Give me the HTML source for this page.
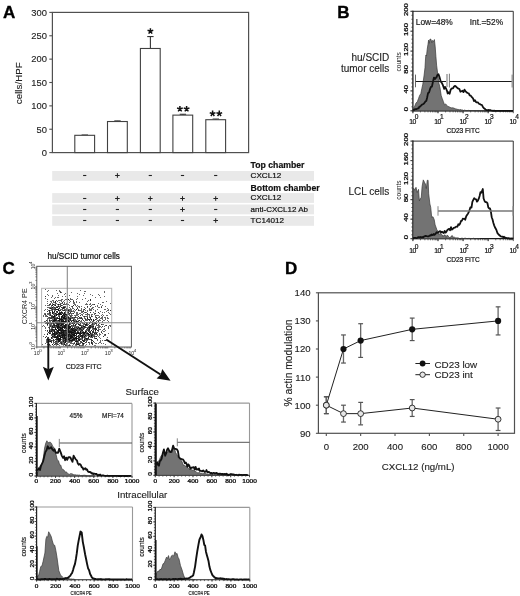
<!DOCTYPE html>
<html><head><meta charset="utf-8"><style>
html,body{margin:0;padding:0;background:#fff;}
svg{display:block;font-family:"Liberation Sans", sans-serif;will-change:transform;}
</style></head><body>
<svg width="520" height="596" viewBox="0 0 520 596">
<rect width="520" height="596" fill="#fff"/>
<text x="3.00" y="18.30" font-size="17" text-anchor="start" font-weight="bold" fill="#000" stroke="#000" stroke-width="0.35">A</text>
<rect x="52.40" y="12.40" width="196.20" height="140.20" fill="none" stroke="#505050" stroke-width="1.2"/>
<line x1="49.30" y1="152.60" x2="52.40" y2="152.60" stroke="#505050" stroke-width="1.1"/>
<text x="46.90" y="155.90" font-size="9.4" text-anchor="end" font-weight="normal" fill="#222"  stroke="#222" stroke-width="0.12">0</text>
<line x1="49.30" y1="129.23" x2="52.40" y2="129.23" stroke="#505050" stroke-width="1.1"/>
<text x="46.90" y="132.53" font-size="9.4" text-anchor="end" font-weight="normal" fill="#222"  stroke="#222" stroke-width="0.12">50</text>
<line x1="49.30" y1="105.87" x2="52.40" y2="105.87" stroke="#505050" stroke-width="1.1"/>
<text x="46.90" y="109.17" font-size="9.4" text-anchor="end" font-weight="normal" fill="#222"  stroke="#222" stroke-width="0.12">100</text>
<line x1="49.30" y1="82.50" x2="52.40" y2="82.50" stroke="#505050" stroke-width="1.1"/>
<text x="46.90" y="85.80" font-size="9.4" text-anchor="end" font-weight="normal" fill="#222"  stroke="#222" stroke-width="0.12">150</text>
<line x1="49.30" y1="59.13" x2="52.40" y2="59.13" stroke="#505050" stroke-width="1.1"/>
<text x="46.90" y="62.43" font-size="9.4" text-anchor="end" font-weight="normal" fill="#222"  stroke="#222" stroke-width="0.12">200</text>
<line x1="49.30" y1="35.77" x2="52.40" y2="35.77" stroke="#505050" stroke-width="1.1"/>
<text x="46.90" y="39.07" font-size="9.4" text-anchor="end" font-weight="normal" fill="#222"  stroke="#222" stroke-width="0.12">250</text>
<line x1="49.30" y1="12.40" x2="52.40" y2="12.40" stroke="#505050" stroke-width="1.1"/>
<text x="46.90" y="15.70" font-size="9.4" text-anchor="end" font-weight="normal" fill="#222"  stroke="#222" stroke-width="0.12">300</text>
<text transform="translate(22.3,83.2) rotate(-90)" font-size="9.8" text-anchor="middle" fill="#222" stroke="#222" stroke-width="0.12">cells/HPF</text>
<line x1="84.80" y1="135.31" x2="84.80" y2="135.03" stroke="#333" stroke-width="1.1"/>
<line x1="81.60" y1="135.03" x2="88.00" y2="135.03" stroke="#333" stroke-width="1.1"/>
<rect x="74.80" y="135.31" width="19.80" height="17.29" fill="#fff" stroke="#404040" stroke-width="1.1"/>
<line x1="117.50" y1="121.52" x2="117.50" y2="120.91" stroke="#333" stroke-width="1.1"/>
<line x1="114.30" y1="120.91" x2="120.70" y2="120.91" stroke="#333" stroke-width="1.1"/>
<rect x="107.50" y="121.52" width="19.80" height="31.08" fill="#fff" stroke="#404040" stroke-width="1.1"/>
<line x1="150.40" y1="48.48" x2="150.40" y2="36.56" stroke="#333" stroke-width="1.1"/>
<line x1="147.20" y1="36.56" x2="153.60" y2="36.56" stroke="#333" stroke-width="1.1"/>
<rect x="140.40" y="48.48" width="19.80" height="104.12" fill="#fff" stroke="#404040" stroke-width="1.1"/>
<line x1="182.90" y1="115.12" x2="182.90" y2="114.28" stroke="#333" stroke-width="1.1"/>
<line x1="179.70" y1="114.28" x2="186.10" y2="114.28" stroke="#333" stroke-width="1.1"/>
<rect x="172.90" y="115.12" width="19.80" height="37.48" fill="#fff" stroke="#404040" stroke-width="1.1"/>
<line x1="215.80" y1="119.70" x2="215.80" y2="119.05" stroke="#333" stroke-width="1.1"/>
<line x1="212.60" y1="119.05" x2="219.00" y2="119.05" stroke="#333" stroke-width="1.1"/>
<rect x="205.80" y="119.70" width="19.80" height="32.90" fill="#fff" stroke="#404040" stroke-width="1.1"/>
<path d="M150.40 31.20 L150.40 28.20 M150.40 31.20 L153.25 30.27 M150.40 31.20 L152.16 33.63 M150.40 31.20 L148.64 33.63 M150.40 31.20 L147.55 30.27 " stroke="#111" stroke-width="1.5" stroke-linecap="butt" fill="none"/>
<path d="M179.90 108.90 L179.90 105.90 M179.90 108.90 L182.75 107.97 M179.90 108.90 L181.66 111.33 M179.90 108.90 L178.14 111.33 M179.90 108.90 L177.05 107.97 " stroke="#111" stroke-width="1.5" stroke-linecap="butt" fill="none"/>
<path d="M186.60 108.90 L186.60 105.90 M186.60 108.90 L189.45 107.97 M186.60 108.90 L188.36 111.33 M186.60 108.90 L184.84 111.33 M186.60 108.90 L183.75 107.97 " stroke="#111" stroke-width="1.5" stroke-linecap="butt" fill="none"/>
<path d="M212.60 113.60 L212.60 110.60 M212.60 113.60 L215.45 112.67 M212.60 113.60 L214.36 116.03 M212.60 113.60 L210.84 116.03 M212.60 113.60 L209.75 112.67 " stroke="#111" stroke-width="1.5" stroke-linecap="butt" fill="none"/>
<path d="M219.30 113.60 L219.30 110.60 M219.30 113.60 L222.15 112.67 M219.30 113.60 L221.06 116.03 M219.30 113.60 L217.54 116.03 M219.30 113.60 L216.45 112.67 " stroke="#111" stroke-width="1.5" stroke-linecap="butt" fill="none"/>
<rect x="52.20" y="171.00" width="261.80" height="9.80" fill="#e9e9e9" stroke="none" stroke-width="1"/>
<rect x="52.20" y="193.10" width="261.80" height="9.80" fill="#e9e9e9" stroke="none" stroke-width="1"/>
<rect x="52.20" y="204.50" width="261.80" height="9.80" fill="#e9e9e9" stroke="none" stroke-width="1"/>
<rect x="52.20" y="216.00" width="261.80" height="9.80" fill="#e9e9e9" stroke="none" stroke-width="1"/>
<line x1="83.10" y1="175.50" x2="86.30" y2="175.50" stroke="#222" stroke-width="1.1"/>
<line x1="115.10" y1="175.50" x2="119.70" y2="175.50" stroke="#222" stroke-width="1.0"/>
<line x1="117.40" y1="173.20" x2="117.40" y2="177.80" stroke="#222" stroke-width="1.0"/>
<line x1="148.70" y1="175.50" x2="151.90" y2="175.50" stroke="#222" stroke-width="1.1"/>
<line x1="180.90" y1="175.50" x2="184.10" y2="175.50" stroke="#222" stroke-width="1.1"/>
<line x1="214.10" y1="175.50" x2="217.30" y2="175.50" stroke="#222" stroke-width="1.1"/>
<line x1="83.10" y1="198.50" x2="86.30" y2="198.50" stroke="#222" stroke-width="1.1"/>
<line x1="115.10" y1="198.50" x2="119.70" y2="198.50" stroke="#222" stroke-width="1.0"/>
<line x1="117.40" y1="196.20" x2="117.40" y2="200.80" stroke="#222" stroke-width="1.0"/>
<line x1="148.00" y1="198.50" x2="152.60" y2="198.50" stroke="#222" stroke-width="1.0"/>
<line x1="150.30" y1="196.20" x2="150.30" y2="200.80" stroke="#222" stroke-width="1.0"/>
<line x1="180.20" y1="198.50" x2="184.80" y2="198.50" stroke="#222" stroke-width="1.0"/>
<line x1="182.50" y1="196.20" x2="182.50" y2="200.80" stroke="#222" stroke-width="1.0"/>
<line x1="213.40" y1="198.50" x2="218.00" y2="198.50" stroke="#222" stroke-width="1.0"/>
<line x1="215.70" y1="196.20" x2="215.70" y2="200.80" stroke="#222" stroke-width="1.0"/>
<line x1="83.10" y1="209.50" x2="86.30" y2="209.50" stroke="#222" stroke-width="1.1"/>
<line x1="115.80" y1="209.50" x2="119.00" y2="209.50" stroke="#222" stroke-width="1.1"/>
<line x1="148.70" y1="209.50" x2="151.90" y2="209.50" stroke="#222" stroke-width="1.1"/>
<line x1="180.20" y1="209.50" x2="184.80" y2="209.50" stroke="#222" stroke-width="1.0"/>
<line x1="182.50" y1="207.20" x2="182.50" y2="211.80" stroke="#222" stroke-width="1.0"/>
<line x1="214.10" y1="209.50" x2="217.30" y2="209.50" stroke="#222" stroke-width="1.1"/>
<line x1="83.10" y1="220.50" x2="86.30" y2="220.50" stroke="#222" stroke-width="1.1"/>
<line x1="115.80" y1="220.50" x2="119.00" y2="220.50" stroke="#222" stroke-width="1.1"/>
<line x1="148.70" y1="220.50" x2="151.90" y2="220.50" stroke="#222" stroke-width="1.1"/>
<line x1="180.90" y1="220.50" x2="184.10" y2="220.50" stroke="#222" stroke-width="1.1"/>
<line x1="213.40" y1="220.50" x2="218.00" y2="220.50" stroke="#222" stroke-width="1.0"/>
<line x1="215.70" y1="218.20" x2="215.70" y2="222.80" stroke="#222" stroke-width="1.0"/>
<text x="250.60" y="167.60" font-size="8.7" text-anchor="start" font-weight="bold" fill="#111"  stroke="#111" stroke-width="0.2">Top chamber</text>
<text x="250.60" y="177.90" font-size="8.1" text-anchor="start" font-weight="normal" fill="#111"  stroke="#111" stroke-width="0.2">CXCL12</text>
<text x="250.60" y="190.60" font-size="8.7" text-anchor="start" font-weight="bold" fill="#111"  stroke="#111" stroke-width="0.2">Bottom chamber</text>
<text x="250.60" y="200.40" font-size="8.1" text-anchor="start" font-weight="normal" fill="#111"  stroke="#111" stroke-width="0.2">CXCL12</text>
<text x="250.60" y="211.90" font-size="8.0" text-anchor="start" font-weight="normal" fill="#111"  stroke="#111" stroke-width="0.2">anti-CXCL12 Ab</text>
<text x="250.60" y="222.90" font-size="8.1" text-anchor="start" font-weight="normal" fill="#111"  stroke="#111" stroke-width="0.2">TC14012</text>
<text x="337.20" y="18.30" font-size="17" text-anchor="start" font-weight="bold" fill="#000" stroke="#000" stroke-width="0.35">B</text>
<text x="389.30" y="60.80" font-size="10" text-anchor="end" font-weight="normal" fill="#222"  stroke="#222" stroke-width="0.12">hu/SCID</text>
<text x="389.30" y="71.50" font-size="10" text-anchor="end" font-weight="normal" fill="#222"  stroke="#222" stroke-width="0.12">tumor cells</text>
<text x="389.30" y="195.20" font-size="10" text-anchor="end" font-weight="normal" fill="#222"  stroke="#222" stroke-width="0.12">LCL cells</text>
<line x1="412.90" y1="11.30" x2="513.30" y2="11.30" stroke="#555" stroke-width="1.2"/>
<line x1="513.30" y1="11.30" x2="513.30" y2="110.80" stroke="#555" stroke-width="1.2"/>
<line x1="412.60" y1="110.80" x2="513.30" y2="110.80" stroke="#1a1a1a" stroke-width="1.2"/>
<line x1="412.90" y1="10.70" x2="412.90" y2="111.40" stroke="#1a1a1a" stroke-width="1.3"/>
<line x1="411.40" y1="110.80" x2="412.90" y2="110.80" stroke="#333" stroke-width="0.8"/>
<line x1="411.40" y1="106.82" x2="412.90" y2="106.82" stroke="#333" stroke-width="0.8"/>
<line x1="411.40" y1="102.84" x2="412.90" y2="102.84" stroke="#333" stroke-width="0.8"/>
<line x1="411.40" y1="98.86" x2="412.90" y2="98.86" stroke="#333" stroke-width="0.8"/>
<line x1="411.40" y1="94.88" x2="412.90" y2="94.88" stroke="#333" stroke-width="0.8"/>
<line x1="411.40" y1="90.90" x2="412.90" y2="90.90" stroke="#333" stroke-width="0.8"/>
<line x1="411.40" y1="86.92" x2="412.90" y2="86.92" stroke="#333" stroke-width="0.8"/>
<line x1="411.40" y1="82.94" x2="412.90" y2="82.94" stroke="#333" stroke-width="0.8"/>
<line x1="411.40" y1="78.96" x2="412.90" y2="78.96" stroke="#333" stroke-width="0.8"/>
<line x1="411.40" y1="74.98" x2="412.90" y2="74.98" stroke="#333" stroke-width="0.8"/>
<line x1="411.40" y1="71.00" x2="412.90" y2="71.00" stroke="#333" stroke-width="0.8"/>
<line x1="411.40" y1="67.02" x2="412.90" y2="67.02" stroke="#333" stroke-width="0.8"/>
<line x1="411.40" y1="63.04" x2="412.90" y2="63.04" stroke="#333" stroke-width="0.8"/>
<line x1="411.40" y1="59.06" x2="412.90" y2="59.06" stroke="#333" stroke-width="0.8"/>
<line x1="411.40" y1="55.08" x2="412.90" y2="55.08" stroke="#333" stroke-width="0.8"/>
<line x1="411.40" y1="51.10" x2="412.90" y2="51.10" stroke="#333" stroke-width="0.8"/>
<line x1="411.40" y1="47.12" x2="412.90" y2="47.12" stroke="#333" stroke-width="0.8"/>
<line x1="411.40" y1="43.14" x2="412.90" y2="43.14" stroke="#333" stroke-width="0.8"/>
<line x1="411.40" y1="39.16" x2="412.90" y2="39.16" stroke="#333" stroke-width="0.8"/>
<line x1="411.40" y1="35.18" x2="412.90" y2="35.18" stroke="#333" stroke-width="0.8"/>
<line x1="411.40" y1="31.20" x2="412.90" y2="31.20" stroke="#333" stroke-width="0.8"/>
<line x1="411.40" y1="27.22" x2="412.90" y2="27.22" stroke="#333" stroke-width="0.8"/>
<line x1="411.40" y1="23.24" x2="412.90" y2="23.24" stroke="#333" stroke-width="0.8"/>
<line x1="411.40" y1="19.26" x2="412.90" y2="19.26" stroke="#333" stroke-width="0.8"/>
<line x1="411.40" y1="15.28" x2="412.90" y2="15.28" stroke="#333" stroke-width="0.8"/>
<line x1="411.40" y1="11.30" x2="412.90" y2="11.30" stroke="#333" stroke-width="0.8"/>
<line x1="410.30" y1="110.80" x2="412.90" y2="110.80" stroke="#333" stroke-width="0.9"/>
<text transform="translate(407.80,109.10) rotate(-90) scale(1.6,1)" font-size="4.9" text-anchor="middle" fill="#111" stroke="#111" stroke-width="0.25">0</text>
<line x1="410.30" y1="90.90" x2="412.90" y2="90.90" stroke="#333" stroke-width="0.9"/>
<text transform="translate(407.80,89.20) rotate(-90) scale(1.6,1)" font-size="4.9" text-anchor="middle" fill="#111" stroke="#111" stroke-width="0.25">40</text>
<line x1="410.30" y1="71.00" x2="412.90" y2="71.00" stroke="#333" stroke-width="0.9"/>
<text transform="translate(407.80,69.30) rotate(-90) scale(1.6,1)" font-size="4.9" text-anchor="middle" fill="#111" stroke="#111" stroke-width="0.25">80</text>
<line x1="410.30" y1="51.10" x2="412.90" y2="51.10" stroke="#333" stroke-width="0.9"/>
<text transform="translate(407.80,49.40) rotate(-90) scale(1.6,1)" font-size="4.9" text-anchor="middle" fill="#111" stroke="#111" stroke-width="0.25">120</text>
<line x1="410.30" y1="31.20" x2="412.90" y2="31.20" stroke="#333" stroke-width="0.9"/>
<text transform="translate(407.80,29.50) rotate(-90) scale(1.6,1)" font-size="4.9" text-anchor="middle" fill="#111" stroke="#111" stroke-width="0.25">160</text>
<line x1="410.30" y1="11.30" x2="412.90" y2="11.30" stroke="#333" stroke-width="0.9"/>
<text transform="translate(407.80,9.60) rotate(-90) scale(1.6,1)" font-size="4.9" text-anchor="middle" fill="#111" stroke="#111" stroke-width="0.25">200</text>
<text transform="translate(400.90,61.80) rotate(-90)" font-size="6.6" text-anchor="middle" fill="#222">counts</text>
<line x1="412.90" y1="110.80" x2="412.90" y2="113.20" stroke="#333" stroke-width="0.7"/>
<line x1="420.46" y1="110.80" x2="420.46" y2="112.40" stroke="#333" stroke-width="0.7"/>
<line x1="424.88" y1="110.80" x2="424.88" y2="112.40" stroke="#333" stroke-width="0.7"/>
<line x1="428.01" y1="110.80" x2="428.01" y2="112.40" stroke="#333" stroke-width="0.7"/>
<line x1="430.44" y1="110.80" x2="430.44" y2="112.40" stroke="#333" stroke-width="0.7"/>
<line x1="432.43" y1="110.80" x2="432.43" y2="112.40" stroke="#333" stroke-width="0.7"/>
<line x1="434.11" y1="110.80" x2="434.11" y2="112.40" stroke="#333" stroke-width="0.7"/>
<line x1="435.57" y1="110.80" x2="435.57" y2="112.40" stroke="#333" stroke-width="0.7"/>
<line x1="436.85" y1="110.80" x2="436.85" y2="112.40" stroke="#333" stroke-width="0.7"/>
<line x1="438.00" y1="110.80" x2="438.00" y2="113.20" stroke="#333" stroke-width="0.7"/>
<line x1="445.56" y1="110.80" x2="445.56" y2="112.40" stroke="#333" stroke-width="0.7"/>
<line x1="449.98" y1="110.80" x2="449.98" y2="112.40" stroke="#333" stroke-width="0.7"/>
<line x1="453.11" y1="110.80" x2="453.11" y2="112.40" stroke="#333" stroke-width="0.7"/>
<line x1="455.54" y1="110.80" x2="455.54" y2="112.40" stroke="#333" stroke-width="0.7"/>
<line x1="457.53" y1="110.80" x2="457.53" y2="112.40" stroke="#333" stroke-width="0.7"/>
<line x1="459.21" y1="110.80" x2="459.21" y2="112.40" stroke="#333" stroke-width="0.7"/>
<line x1="460.67" y1="110.80" x2="460.67" y2="112.40" stroke="#333" stroke-width="0.7"/>
<line x1="461.95" y1="110.80" x2="461.95" y2="112.40" stroke="#333" stroke-width="0.7"/>
<line x1="463.10" y1="110.80" x2="463.10" y2="113.20" stroke="#333" stroke-width="0.7"/>
<line x1="470.66" y1="110.80" x2="470.66" y2="112.40" stroke="#333" stroke-width="0.7"/>
<line x1="475.08" y1="110.80" x2="475.08" y2="112.40" stroke="#333" stroke-width="0.7"/>
<line x1="478.21" y1="110.80" x2="478.21" y2="112.40" stroke="#333" stroke-width="0.7"/>
<line x1="480.64" y1="110.80" x2="480.64" y2="112.40" stroke="#333" stroke-width="0.7"/>
<line x1="482.63" y1="110.80" x2="482.63" y2="112.40" stroke="#333" stroke-width="0.7"/>
<line x1="484.31" y1="110.80" x2="484.31" y2="112.40" stroke="#333" stroke-width="0.7"/>
<line x1="485.77" y1="110.80" x2="485.77" y2="112.40" stroke="#333" stroke-width="0.7"/>
<line x1="487.05" y1="110.80" x2="487.05" y2="112.40" stroke="#333" stroke-width="0.7"/>
<line x1="488.20" y1="110.80" x2="488.20" y2="113.20" stroke="#333" stroke-width="0.7"/>
<line x1="495.76" y1="110.80" x2="495.76" y2="112.40" stroke="#333" stroke-width="0.7"/>
<line x1="500.18" y1="110.80" x2="500.18" y2="112.40" stroke="#333" stroke-width="0.7"/>
<line x1="503.31" y1="110.80" x2="503.31" y2="112.40" stroke="#333" stroke-width="0.7"/>
<line x1="505.74" y1="110.80" x2="505.74" y2="112.40" stroke="#333" stroke-width="0.7"/>
<line x1="507.73" y1="110.80" x2="507.73" y2="112.40" stroke="#333" stroke-width="0.7"/>
<line x1="509.41" y1="110.80" x2="509.41" y2="112.40" stroke="#333" stroke-width="0.7"/>
<line x1="510.87" y1="110.80" x2="510.87" y2="112.40" stroke="#333" stroke-width="0.7"/>
<line x1="512.15" y1="110.80" x2="512.15" y2="112.40" stroke="#333" stroke-width="0.7"/>
<line x1="412.90" y1="110.80" x2="412.90" y2="113.20" stroke="#333" stroke-width="0.8"/>
<text x="409.20" y="123.60" font-size="6.8" letter-spacing="-0.5" fill="#111" stroke="#111" stroke-width="0.2">10</text>
<text x="414.80" y="119.25" font-size="6.6" fill="#111" stroke="#111" stroke-width="0.2">0</text>
<line x1="438.00" y1="110.80" x2="438.00" y2="113.20" stroke="#333" stroke-width="0.8"/>
<text x="434.30" y="123.60" font-size="6.8" letter-spacing="-0.5" fill="#111" stroke="#111" stroke-width="0.2">10</text>
<text x="439.90" y="119.25" font-size="6.6" fill="#111" stroke="#111" stroke-width="0.2">1</text>
<line x1="463.10" y1="110.80" x2="463.10" y2="113.20" stroke="#333" stroke-width="0.8"/>
<text x="459.40" y="123.60" font-size="6.8" letter-spacing="-0.5" fill="#111" stroke="#111" stroke-width="0.2">10</text>
<text x="465.00" y="119.25" font-size="6.6" fill="#111" stroke="#111" stroke-width="0.2">2</text>
<line x1="488.20" y1="110.80" x2="488.20" y2="113.20" stroke="#333" stroke-width="0.8"/>
<text x="484.50" y="123.60" font-size="6.8" letter-spacing="-0.5" fill="#111" stroke="#111" stroke-width="0.2">10</text>
<text x="490.10" y="119.25" font-size="6.6" fill="#111" stroke="#111" stroke-width="0.2">3</text>
<line x1="513.30" y1="110.80" x2="513.30" y2="113.20" stroke="#333" stroke-width="0.8"/>
<text x="509.60" y="123.60" font-size="6.8" letter-spacing="-0.5" fill="#111" stroke="#111" stroke-width="0.2">10</text>
<text x="515.20" y="119.25" font-size="6.6" fill="#111" stroke="#111" stroke-width="0.2">4</text>
<text x="463.10" y="132.75" font-size="6.7" text-anchor="middle" textLength="33.3" lengthAdjust="spacingAndGlyphs" fill="#111" stroke="#111" stroke-width="0.2">CD23 FITC</text>
<path d="M413.30 110.80 L413.60 107.74 L414.66 106.34 L416.00 102.95 L417.31 101.82 L418.60 98.30 L419.74 95.20 L420.80 93.81 L421.86 88.43 L422.80 84.15 L424.00 75.96 L425.00 67.66 L425.50 58.95 L425.90 54.97 L426.50 55.94 L427.20 49.37 L428.00 44.22 L428.60 40.08 L429.20 43.33 L430.00 39.03 L431.00 39.36 L431.80 42.69 L432.60 40.41 L433.50 41.53 L434.40 39.56 L435.20 46.86 L435.90 56.39 L436.60 65.13 L437.80 74.50 L439.00 83.54 L440.00 87.87 L441.20 95.57 L442.30 98.73 L443.37 101.59 L444.60 104.92 L445.81 103.90 L447.00 105.90 L448.02 106.43 L449.20 106.87 L450.02 107.43 L450.97 107.63 L451.94 108.00 L452.80 107.71 L454.04 108.20 L455.40 108.82 L456.22 108.92 L457.17 109.35 L458.18 109.33 L459.15 109.92 L460.00 109.39 L460.97 109.78 L461.76 109.99 L463.00 109.97 L463.68 110.63 L464.33 110.07 L465.04 110.41 L465.88 110.42 L466.94 110.72 L468.28 110.35 L470.00 110.71 L470.66 110.54 L471.40 110.61 L472.23 110.57 L473.12 110.70 L474.06 110.56 L475.06 110.66 L476.09 110.71 L477.16 110.80 L478.24 110.53 L479.34 110.80 L480.44 110.78 L481.53 110.70 L482.60 110.75 L483.65 110.72 L484.67 110.80 L485.64 110.77 L486.55 110.76 L487.40 110.77 L488.19 110.78 L488.88 110.79 L489.49 110.78 L490.00 110.80 L490.00 110.80 L413.30 110.80 Z" fill="#737373" stroke="#3a3a3a" stroke-width="0.7" stroke-linejoin="round"/>
<path d="M413.30 110.60 L413.60 109.91 L414.15 109.78 L414.89 109.24 L415.76 109.18 L416.71 109.03 L417.67 108.40 L418.60 108.39 L419.40 106.73 L420.26 106.56 L421.15 105.44 L422.02 104.64 L422.86 104.23 L423.63 103.72 L424.30 103.10 L425.44 101.38 L426.27 100.98 L427.10 97.80 L428.06 93.13 L429.04 92.53 L430.00 89.19 L430.96 86.81 L431.91 86.62 L432.80 82.51 L433.98 77.57 L435.00 78.94 L436.50 77.08 L437.50 74.78 L438.50 74.23 L439.50 77.10 L440.70 81.37 L441.85 82.98 L443.00 85.49 L444.20 88.86 L445.03 86.89 L446.03 88.50 L446.90 90.52 L447.72 93.48 L448.50 92.26 L449.61 93.73 L450.80 89.34 L451.84 88.47 L453.00 88.44 L454.03 86.52 L455.16 85.87 L456.20 86.76 L457.36 87.94 L458.50 88.63 L459.41 89.03 L460.41 91.73 L461.50 91.25 L462.45 90.65 L463.49 92.16 L464.52 89.69 L465.40 90.98 L466.60 92.42 L467.70 92.99 L468.71 93.41 L469.80 95.46 L470.80 95.68 L471.89 97.22 L473.00 98.33 L473.94 101.06 L474.99 100.26 L476.20 102.38 L477.04 102.34 L477.98 102.46 L478.95 103.72 L479.91 104.09 L480.80 104.68 L481.82 104.79 L482.79 106.69 L483.72 108.07 L484.60 108.68 L485.51 109.52 L486.35 110.04 L487.70 110.09 L488.30 110.53 L488.91 109.96 L489.56 110.31 L490.26 110.07 L491.05 110.64 L491.93 110.63 L492.94 110.80 L494.08 110.73 L495.40 110.80 L496.01 110.80 L496.69 110.80 L497.44 110.80 L498.24 110.80 L499.08 110.80 L499.96 110.80 L500.88 110.80 L501.81 110.80 L502.76 110.80 L503.72 110.80 L504.68 110.80 L505.63 110.80 L506.57 110.80 L507.48 110.80 L508.36 110.80 L509.20 110.80 L510.00 110.80 L510.74 110.80 L511.42 110.80 L512.02 110.80 L512.55 110.80 L513.00 110.80" fill="none" stroke="#111" stroke-width="1.8" stroke-linejoin="round"/>
<line x1="415.50" y1="81.50" x2="446.20" y2="81.50" stroke="#1a1a1a" stroke-width="1.0"/>
<line x1="449.40" y1="81.50" x2="512.30" y2="81.50" stroke="#1a1a1a" stroke-width="1.0"/>
<line x1="415.50" y1="74.60" x2="415.50" y2="87.30" stroke="#555" stroke-width="0.9"/>
<line x1="447.00" y1="74.10" x2="447.00" y2="87.00" stroke="#aaa" stroke-width="1.7"/>
<line x1="449.40" y1="73.70" x2="449.40" y2="87.50" stroke="#666" stroke-width="0.9"/>
<line x1="512.30" y1="74.60" x2="512.30" y2="87.50" stroke="#999" stroke-width="1.6"/>
<text x="415.80" y="25.30" font-size="8.4" text-anchor="start" font-weight="normal" fill="#222"  stroke="#222" stroke-width="0.2">Low=48%</text>
<text x="469.80" y="25.30" font-size="8.4" text-anchor="start" font-weight="normal" fill="#222"  stroke="#222" stroke-width="0.2">Int.=52%</text>
<line x1="412.90" y1="141.10" x2="513.30" y2="141.10" stroke="#555" stroke-width="1.2"/>
<line x1="513.30" y1="141.10" x2="513.30" y2="238.70" stroke="#555" stroke-width="1.2"/>
<line x1="412.60" y1="238.70" x2="513.30" y2="238.70" stroke="#1a1a1a" stroke-width="1.2"/>
<line x1="412.90" y1="140.50" x2="412.90" y2="239.30" stroke="#1a1a1a" stroke-width="1.3"/>
<line x1="411.40" y1="238.70" x2="412.90" y2="238.70" stroke="#333" stroke-width="0.8"/>
<line x1="411.40" y1="234.80" x2="412.90" y2="234.80" stroke="#333" stroke-width="0.8"/>
<line x1="411.40" y1="230.89" x2="412.90" y2="230.89" stroke="#333" stroke-width="0.8"/>
<line x1="411.40" y1="226.99" x2="412.90" y2="226.99" stroke="#333" stroke-width="0.8"/>
<line x1="411.40" y1="223.08" x2="412.90" y2="223.08" stroke="#333" stroke-width="0.8"/>
<line x1="411.40" y1="219.18" x2="412.90" y2="219.18" stroke="#333" stroke-width="0.8"/>
<line x1="411.40" y1="215.28" x2="412.90" y2="215.28" stroke="#333" stroke-width="0.8"/>
<line x1="411.40" y1="211.37" x2="412.90" y2="211.37" stroke="#333" stroke-width="0.8"/>
<line x1="411.40" y1="207.47" x2="412.90" y2="207.47" stroke="#333" stroke-width="0.8"/>
<line x1="411.40" y1="203.56" x2="412.90" y2="203.56" stroke="#333" stroke-width="0.8"/>
<line x1="411.40" y1="199.66" x2="412.90" y2="199.66" stroke="#333" stroke-width="0.8"/>
<line x1="411.40" y1="195.76" x2="412.90" y2="195.76" stroke="#333" stroke-width="0.8"/>
<line x1="411.40" y1="191.85" x2="412.90" y2="191.85" stroke="#333" stroke-width="0.8"/>
<line x1="411.40" y1="187.95" x2="412.90" y2="187.95" stroke="#333" stroke-width="0.8"/>
<line x1="411.40" y1="184.04" x2="412.90" y2="184.04" stroke="#333" stroke-width="0.8"/>
<line x1="411.40" y1="180.14" x2="412.90" y2="180.14" stroke="#333" stroke-width="0.8"/>
<line x1="411.40" y1="176.24" x2="412.90" y2="176.24" stroke="#333" stroke-width="0.8"/>
<line x1="411.40" y1="172.33" x2="412.90" y2="172.33" stroke="#333" stroke-width="0.8"/>
<line x1="411.40" y1="168.43" x2="412.90" y2="168.43" stroke="#333" stroke-width="0.8"/>
<line x1="411.40" y1="164.52" x2="412.90" y2="164.52" stroke="#333" stroke-width="0.8"/>
<line x1="411.40" y1="160.62" x2="412.90" y2="160.62" stroke="#333" stroke-width="0.8"/>
<line x1="411.40" y1="156.72" x2="412.90" y2="156.72" stroke="#333" stroke-width="0.8"/>
<line x1="411.40" y1="152.81" x2="412.90" y2="152.81" stroke="#333" stroke-width="0.8"/>
<line x1="411.40" y1="148.91" x2="412.90" y2="148.91" stroke="#333" stroke-width="0.8"/>
<line x1="411.40" y1="145.00" x2="412.90" y2="145.00" stroke="#333" stroke-width="0.8"/>
<line x1="411.40" y1="141.10" x2="412.90" y2="141.10" stroke="#333" stroke-width="0.8"/>
<line x1="410.30" y1="238.70" x2="412.90" y2="238.70" stroke="#333" stroke-width="0.9"/>
<text transform="translate(407.80,237.00) rotate(-90) scale(1.6,1)" font-size="4.9" text-anchor="middle" fill="#111" stroke="#111" stroke-width="0.25">0</text>
<line x1="410.30" y1="219.18" x2="412.90" y2="219.18" stroke="#333" stroke-width="0.9"/>
<text transform="translate(407.80,217.48) rotate(-90) scale(1.6,1)" font-size="4.9" text-anchor="middle" fill="#111" stroke="#111" stroke-width="0.25">40</text>
<line x1="410.30" y1="199.66" x2="412.90" y2="199.66" stroke="#333" stroke-width="0.9"/>
<text transform="translate(407.80,197.96) rotate(-90) scale(1.6,1)" font-size="4.9" text-anchor="middle" fill="#111" stroke="#111" stroke-width="0.25">80</text>
<line x1="410.30" y1="180.14" x2="412.90" y2="180.14" stroke="#333" stroke-width="0.9"/>
<text transform="translate(407.80,178.44) rotate(-90) scale(1.6,1)" font-size="4.9" text-anchor="middle" fill="#111" stroke="#111" stroke-width="0.25">120</text>
<line x1="410.30" y1="160.62" x2="412.90" y2="160.62" stroke="#333" stroke-width="0.9"/>
<text transform="translate(407.80,158.92) rotate(-90) scale(1.6,1)" font-size="4.9" text-anchor="middle" fill="#111" stroke="#111" stroke-width="0.25">160</text>
<line x1="410.30" y1="141.10" x2="412.90" y2="141.10" stroke="#333" stroke-width="0.9"/>
<text transform="translate(407.80,139.40) rotate(-90) scale(1.6,1)" font-size="4.9" text-anchor="middle" fill="#111" stroke="#111" stroke-width="0.25">200</text>
<text transform="translate(400.90,190.10) rotate(-90)" font-size="6.6" text-anchor="middle" fill="#222">counts</text>
<line x1="412.90" y1="238.70" x2="412.90" y2="241.10" stroke="#333" stroke-width="0.7"/>
<line x1="420.46" y1="238.70" x2="420.46" y2="240.30" stroke="#333" stroke-width="0.7"/>
<line x1="424.88" y1="238.70" x2="424.88" y2="240.30" stroke="#333" stroke-width="0.7"/>
<line x1="428.01" y1="238.70" x2="428.01" y2="240.30" stroke="#333" stroke-width="0.7"/>
<line x1="430.44" y1="238.70" x2="430.44" y2="240.30" stroke="#333" stroke-width="0.7"/>
<line x1="432.43" y1="238.70" x2="432.43" y2="240.30" stroke="#333" stroke-width="0.7"/>
<line x1="434.11" y1="238.70" x2="434.11" y2="240.30" stroke="#333" stroke-width="0.7"/>
<line x1="435.57" y1="238.70" x2="435.57" y2="240.30" stroke="#333" stroke-width="0.7"/>
<line x1="436.85" y1="238.70" x2="436.85" y2="240.30" stroke="#333" stroke-width="0.7"/>
<line x1="438.00" y1="238.70" x2="438.00" y2="241.10" stroke="#333" stroke-width="0.7"/>
<line x1="445.56" y1="238.70" x2="445.56" y2="240.30" stroke="#333" stroke-width="0.7"/>
<line x1="449.98" y1="238.70" x2="449.98" y2="240.30" stroke="#333" stroke-width="0.7"/>
<line x1="453.11" y1="238.70" x2="453.11" y2="240.30" stroke="#333" stroke-width="0.7"/>
<line x1="455.54" y1="238.70" x2="455.54" y2="240.30" stroke="#333" stroke-width="0.7"/>
<line x1="457.53" y1="238.70" x2="457.53" y2="240.30" stroke="#333" stroke-width="0.7"/>
<line x1="459.21" y1="238.70" x2="459.21" y2="240.30" stroke="#333" stroke-width="0.7"/>
<line x1="460.67" y1="238.70" x2="460.67" y2="240.30" stroke="#333" stroke-width="0.7"/>
<line x1="461.95" y1="238.70" x2="461.95" y2="240.30" stroke="#333" stroke-width="0.7"/>
<line x1="463.10" y1="238.70" x2="463.10" y2="241.10" stroke="#333" stroke-width="0.7"/>
<line x1="470.66" y1="238.70" x2="470.66" y2="240.30" stroke="#333" stroke-width="0.7"/>
<line x1="475.08" y1="238.70" x2="475.08" y2="240.30" stroke="#333" stroke-width="0.7"/>
<line x1="478.21" y1="238.70" x2="478.21" y2="240.30" stroke="#333" stroke-width="0.7"/>
<line x1="480.64" y1="238.70" x2="480.64" y2="240.30" stroke="#333" stroke-width="0.7"/>
<line x1="482.63" y1="238.70" x2="482.63" y2="240.30" stroke="#333" stroke-width="0.7"/>
<line x1="484.31" y1="238.70" x2="484.31" y2="240.30" stroke="#333" stroke-width="0.7"/>
<line x1="485.77" y1="238.70" x2="485.77" y2="240.30" stroke="#333" stroke-width="0.7"/>
<line x1="487.05" y1="238.70" x2="487.05" y2="240.30" stroke="#333" stroke-width="0.7"/>
<line x1="488.20" y1="238.70" x2="488.20" y2="241.10" stroke="#333" stroke-width="0.7"/>
<line x1="495.76" y1="238.70" x2="495.76" y2="240.30" stroke="#333" stroke-width="0.7"/>
<line x1="500.18" y1="238.70" x2="500.18" y2="240.30" stroke="#333" stroke-width="0.7"/>
<line x1="503.31" y1="238.70" x2="503.31" y2="240.30" stroke="#333" stroke-width="0.7"/>
<line x1="505.74" y1="238.70" x2="505.74" y2="240.30" stroke="#333" stroke-width="0.7"/>
<line x1="507.73" y1="238.70" x2="507.73" y2="240.30" stroke="#333" stroke-width="0.7"/>
<line x1="509.41" y1="238.70" x2="509.41" y2="240.30" stroke="#333" stroke-width="0.7"/>
<line x1="510.87" y1="238.70" x2="510.87" y2="240.30" stroke="#333" stroke-width="0.7"/>
<line x1="512.15" y1="238.70" x2="512.15" y2="240.30" stroke="#333" stroke-width="0.7"/>
<line x1="412.90" y1="238.70" x2="412.90" y2="241.10" stroke="#333" stroke-width="0.8"/>
<text x="409.20" y="252.60" font-size="6.8" letter-spacing="-0.5" fill="#111" stroke="#111" stroke-width="0.2">10</text>
<text x="414.80" y="248.50" font-size="6.6" fill="#111" stroke="#111" stroke-width="0.2">0</text>
<line x1="438.00" y1="238.70" x2="438.00" y2="241.10" stroke="#333" stroke-width="0.8"/>
<text x="434.30" y="252.60" font-size="6.8" letter-spacing="-0.5" fill="#111" stroke="#111" stroke-width="0.2">10</text>
<text x="439.90" y="248.50" font-size="6.6" fill="#111" stroke="#111" stroke-width="0.2">1</text>
<line x1="463.10" y1="238.70" x2="463.10" y2="241.10" stroke="#333" stroke-width="0.8"/>
<text x="459.40" y="252.60" font-size="6.8" letter-spacing="-0.5" fill="#111" stroke="#111" stroke-width="0.2">10</text>
<text x="465.00" y="248.50" font-size="6.6" fill="#111" stroke="#111" stroke-width="0.2">2</text>
<line x1="488.20" y1="238.70" x2="488.20" y2="241.10" stroke="#333" stroke-width="0.8"/>
<text x="484.50" y="252.60" font-size="6.8" letter-spacing="-0.5" fill="#111" stroke="#111" stroke-width="0.2">10</text>
<text x="490.10" y="248.50" font-size="6.6" fill="#111" stroke="#111" stroke-width="0.2">3</text>
<line x1="513.30" y1="238.70" x2="513.30" y2="241.10" stroke="#333" stroke-width="0.8"/>
<text x="509.60" y="252.60" font-size="6.8" letter-spacing="-0.5" fill="#111" stroke="#111" stroke-width="0.2">10</text>
<text x="515.20" y="248.50" font-size="6.6" fill="#111" stroke="#111" stroke-width="0.2">4</text>
<text x="463.10" y="261.90" font-size="6.7" text-anchor="middle" textLength="33.3" lengthAdjust="spacingAndGlyphs" fill="#111" stroke="#111" stroke-width="0.2">CD23 FITC</text>
<path d="M413.00 238.70 L413.30 212.42 L413.60 188.16 L414.80 190.24 L416.00 187.31 L417.20 192.56 L418.50 189.37 L419.37 200.87 L420.30 198.38 L421.24 197.76 L422.10 186.49 L423.30 179.89 L424.50 182.34 L425.36 184.01 L426.30 188.57 L427.28 180.30 L428.10 180.29 L428.70 193.85 L429.90 203.95 L430.72 207.26 L431.70 217.36 L432.95 216.70 L434.20 219.58 L435.14 224.92 L436.00 227.23 L436.79 229.60 L437.80 231.18 L438.82 234.78 L440.04 233.31 L441.40 234.17 L442.26 235.04 L443.17 236.59 L444.13 234.96 L445.14 234.98 L446.20 237.70 L447.11 234.96 L448.05 235.99 L449.03 236.89 L450.05 238.10 L451.14 236.22 L452.30 235.58 L453.07 237.51 L453.80 237.00 L454.53 237.23 L455.28 237.79 L456.09 237.81 L457.01 237.97 L458.06 237.82 L459.28 238.55 L460.70 238.68 L461.40 238.25 L462.19 238.14 L463.05 238.52 L463.98 238.47 L464.96 238.11 L465.98 238.30 L467.04 238.68 L468.12 238.44 L469.22 238.42 L470.32 238.55 L471.42 238.53 L472.51 238.56 L473.57 238.27 L474.59 238.70 L475.57 238.64 L476.50 238.53 L477.37 238.70 L478.16 238.69 L478.87 238.68 L479.49 238.70 L480.00 238.70 L480.00 238.70 L413.00 238.70 Z" fill="#737373" stroke="#3a3a3a" stroke-width="0.7" stroke-linejoin="round"/>
<path d="M413.00 238.30 L413.48 238.32 L414.09 237.82 L414.81 237.90 L415.62 237.96 L416.49 238.17 L417.42 237.70 L418.37 237.12 L419.34 237.51 L420.29 236.93 L421.22 237.52 L422.10 236.92 L422.97 237.46 L423.88 236.67 L424.81 236.19 L425.75 235.85 L426.69 236.11 L427.63 236.27 L428.53 236.42 L429.41 235.86 L430.23 235.24 L431.00 235.62 L431.70 234.53 L432.80 235.07 L433.73 234.01 L434.52 234.78 L435.24 234.10 L435.91 233.35 L436.60 232.18 L437.59 232.72 L438.48 232.25 L439.33 231.38 L440.20 231.19 L441.10 232.52 L442.00 231.68 L442.90 232.46 L443.80 233.09 L444.70 230.94 L445.60 232.62 L446.50 231.57 L447.40 229.93 L448.30 229.36 L449.19 228.85 L450.09 230.20 L451.00 227.22 L451.92 229.67 L452.85 228.85 L453.78 227.88 L454.70 227.58 L455.61 227.11 L456.51 226.53 L457.40 226.72 L458.30 224.23 L459.21 224.91 L460.12 223.52 L461.02 220.94 L461.90 220.76 L462.76 218.73 L463.59 218.81 L464.41 218.77 L465.20 219.73 L466.22 216.20 L467.19 214.68 L468.10 213.44 L469.36 210.85 L470.40 207.33 L471.50 207.54 L472.36 201.80 L473.30 199.90 L474.19 198.20 L475.00 199.00 L476.10 199.34 L476.96 201.59 L477.90 200.56 L478.76 198.68 L479.60 196.06 L480.46 192.08 L481.30 192.78 L482.80 189.04 L483.60 198.46 L484.80 201.48 L485.61 202.18 L486.50 202.12 L487.40 203.05 L488.30 207.37 L489.16 208.40 L490.00 208.45 L490.85 211.37 L491.70 217.23 L492.54 219.49 L493.40 222.93 L494.26 225.60 L495.20 227.77 L496.32 229.75 L497.50 233.18 L498.57 234.49 L499.80 235.48 L500.55 236.28 L501.38 236.69 L502.28 236.56 L503.30 237.29 L504.06 236.69 L504.89 237.72 L505.76 237.72 L506.66 238.14 L507.54 238.26 L508.40 238.03 L509.28 238.29 L510.23 238.55 L511.17 238.40 L512.04 238.53 L512.77 238.51 L513.30 238.60" fill="none" stroke="#111" stroke-width="1.8" stroke-linejoin="round"/>
<line x1="438.00" y1="211.00" x2="513.30" y2="211.00" stroke="#777" stroke-width="1.3"/>
<line x1="438.00" y1="206.20" x2="438.00" y2="215.70" stroke="#888" stroke-width="1.0"/>
<line x1="513.00" y1="206.20" x2="513.00" y2="215.70" stroke="#888" stroke-width="1.0"/>
<text x="2.50" y="274.00" font-size="17" text-anchor="start" font-weight="bold" fill="#000" stroke="#000" stroke-width="0.35">C</text>
<text x="83.70" y="258.90" font-size="8.15" text-anchor="middle" font-weight="normal" fill="#111"  stroke="#111" stroke-width="0.2">hu/SCID tumor cells</text>
<path d="M93 327h1v1h-1zM82 311h1v1h-1zM76 314h1v1h-1zM56 330h1v1h-1zM87 304h1v1h-1zM102 319h1v1h-1zM54 312h1v1h-1zM81 332h1v1h-1zM45 316h1v1h-1zM102 321h1v1h-1zM67 306h1v1h-1zM62 296h1v1h-1zM69 322h1v1h-1zM43 315h1v1h-1zM82 344h1v1h-1zM71 299h1v1h-1zM47 341h1v1h-1zM95 311h1v1h-1zM75 310h1v1h-1zM103 324h1v1h-1zM102 317h1v1h-1zM47 337h1v1h-1zM47 313h1v1h-1zM56 312h1v1h-1zM82 329h1v1h-1zM92 304h1v1h-1zM104 326h1v1h-1zM68 340h1v1h-1zM64 304h1v1h-1zM76 313h1v1h-1zM46 341h1v1h-1zM84 338h1v1h-1zM90 328h1v1h-1zM66 344h1v1h-1zM80 327h1v1h-1zM89 310h1v1h-1zM54 323h1v1h-1zM49 321h1v1h-1zM54 310h1v1h-1zM97 334h1v1h-1zM59 291h1v1h-1zM49 326h1v1h-1zM76 345h1v1h-1zM70 343h1v1h-1zM76 342h1v1h-1zM85 310h1v1h-1zM60 341h1v1h-1zM46 316h1v1h-1zM92 307h1v1h-1zM62 310h1v1h-1zM98 326h1v1h-1zM45 313h1v1h-1zM97 332h1v1h-1zM97 306h1v1h-1zM74 315h1v1h-1zM52 322h1v1h-1zM62 325h1v1h-1zM77 318h1v1h-1zM87 301h1v1h-1zM74 303h1v1h-1zM53 335h1v1h-1zM81 314h1v1h-1zM69 317h1v1h-1zM95 331h1v1h-1zM49 340h1v1h-1zM83 324h1v1h-1zM77 330h1v1h-1zM85 304h1v1h-1zM104 340h1v1h-1zM76 317h1v1h-1zM57 340h1v1h-1zM85 322h1v1h-1zM65 306h1v1h-1zM53 306h1v1h-1zM94 342h1v1h-1zM50 322h1v1h-1zM58 300h1v1h-1zM102 333h1v1h-1zM65 309h1v1h-1zM56 342h1v1h-1zM83 313h1v1h-1zM89 315h1v1h-1zM110 326h1v1h-1zM91 308h1v1h-1zM65 311h1v1h-1zM58 322h1v1h-1zM74 302h1v1h-1zM76 328h1v1h-1zM63 329h1v1h-1zM88 324h1v1h-1zM70 310h1v1h-1zM59 304h1v1h-1zM47 340h1v1h-1zM95 336h1v1h-1zM108 327h1v1h-1zM96 325h1v1h-1zM84 293h1v1h-1zM86 342h1v1h-1zM75 340h1v1h-1zM65 293h1v1h-1zM64 319h1v1h-1zM90 336h1v1h-1zM93 336h1v1h-1zM76 324h1v1h-1zM70 309h1v1h-1zM52 308h1v1h-1zM63 345h1v1h-1zM80 342h1v1h-1zM83 336h1v1h-1zM74 318h1v1h-1zM81 322h1v1h-1zM73 323h1v1h-1zM47 303h1v1h-1zM93 329h1v1h-1zM43 325h1v1h-1zM44 326h1v1h-1zM52 331h1v1h-1zM82 333h1v1h-1zM60 291h1v1h-1zM57 321h1v1h-1zM58 316h1v1h-1zM103 315h1v1h-1zM90 310h1v1h-1zM87 323h1v1h-1zM60 321h1v1h-1zM50 323h1v1h-1zM75 319h1v1h-1zM47 318h1v1h-1zM48 318h1v1h-1zM99 333h1v1h-1zM89 314h1v1h-1zM59 345h1v1h-1zM49 322h1v1h-1zM61 326h1v1h-1zM90 334h1v1h-1zM71 292h1v1h-1zM55 315h1v1h-1zM67 345h1v1h-1zM72 322h1v1h-1zM107 317h1v1h-1zM88 326h1v1h-1zM49 305h1v1h-1zM75 315h1v1h-1zM65 328h1v1h-1zM70 298h1v1h-1zM86 334h1v1h-1zM88 336h1v1h-1zM62 303h1v1h-1zM76 335h1v1h-1zM98 325h1v1h-1zM106 315h1v1h-1zM61 339h1v1h-1zM75 344h1v1h-1zM78 329h1v1h-1zM82 323h1v1h-1zM70 315h1v1h-1zM109 325h1v1h-1zM82 326h1v1h-1zM67 342h1v1h-1zM81 331h1v1h-1zM98 307h1v1h-1zM85 291h1v1h-1zM49 332h1v1h-1zM101 315h1v1h-1zM69 307h1v1h-1zM58 308h1v1h-1zM74 326h1v1h-1zM59 315h1v1h-1zM88 314h1v1h-1zM76 306h1v1h-1zM102 316h1v1h-1zM82 334h1v1h-1zM77 315h1v1h-1zM48 313h1v1h-1zM100 334h1v1h-1zM51 301h1v1h-1zM97 339h1v1h-1zM99 313h1v1h-1zM82 328h1v1h-1zM53 318h1v1h-1zM65 312h1v1h-1zM92 316h1v1h-1zM65 310h1v1h-1zM86 335h1v1h-1zM61 344h1v1h-1zM79 318h1v1h-1zM79 335h1v1h-1zM78 323h1v1h-1zM105 306h1v1h-1zM79 310h1v1h-1zM59 290h1v1h-1zM59 302h1v1h-1zM70 311h1v1h-1zM77 342h1v1h-1zM55 342h1v1h-1zM70 301h1v1h-1zM72 308h1v1h-1zM55 331h1v1h-1zM104 329h1v1h-1zM103 343h1v1h-1zM69 329h1v1h-1zM52 318h1v1h-1zM105 318h1v1h-1zM65 315h1v1h-1zM104 320h1v1h-1zM102 330h1v1h-1zM52 300h1v1h-1zM78 341h1v1h-1zM84 318h1v1h-1zM90 319h1v1h-1zM55 307h1v1h-1zM46 340h1v1h-1zM92 321h1v1h-1zM86 332h1v1h-1zM54 305h1v1h-1zM53 301h1v1h-1zM67 338h1v1h-1zM94 332h1v1h-1zM81 311h1v1h-1zM47 325h1v1h-1zM69 295h1v1h-1zM77 327h1v1h-1zM71 323h1v1h-1zM85 333h1v1h-1zM52 296h1v1h-1zM73 310h1v1h-1zM79 294h1v1h-1zM52 340h1v1h-1zM55 297h1v1h-1zM49 314h1v1h-1zM71 314h1v1h-1zM58 305h1v1h-1zM84 321h1v1h-1zM97 327h1v1h-1zM105 309h1v1h-1zM58 315h1v1h-1zM70 345h1v1h-1zM48 305h1v1h-1zM72 299h1v1h-1zM68 342h1v1h-1zM74 312h1v1h-1zM70 341h1v1h-1zM101 327h1v1h-1zM48 295h1v1h-1zM83 295h1v1h-1zM83 325h1v1h-1zM61 299h1v1h-1zM100 341h1v1h-1zM92 322h1v1h-1zM65 296h1v1h-1zM77 319h1v1h-1zM42 344h1v1h-1zM64 339h1v1h-1zM45 289h1v1h-1zM92 328h1v1h-1zM76 320h1v1h-1zM93 325h1v1h-1zM104 335h1v1h-1zM44 314h1v1h-1zM82 312h1v1h-1zM45 315h1v1h-1zM93 323h1v1h-1zM74 337h1v1h-1zM93 335h1v1h-1zM99 342h1v1h-1zM56 327h1v1h-1zM110 303h1v1h-1zM62 342h1v1h-1zM52 310h1v1h-1zM80 313h1v1h-1zM93 324h1v1h-1zM80 343h1v1h-1zM77 298h1v1h-1zM85 320h1v1h-1zM97 309h1v1h-1zM52 303h1v1h-1zM81 310h1v1h-1zM54 313h1v1h-1zM67 308h1v1h-1zM70 323h1v1h-1zM47 305h1v1h-1zM52 295h1v1h-1zM87 311h1v1h-1zM66 304h1v1h-1zM72 341h1v1h-1zM105 319h1v1h-1zM50 329h1v1h-1zM53 326h1v1h-1zM108 326h1v1h-1zM64 303h1v1h-1zM81 328h1v1h-1zM92 336h1v1h-1zM55 316h1v1h-1zM62 299h1v1h-1zM99 295h1v1h-1zM87 332h1v1h-1zM77 323h1v1h-1zM104 317h1v1h-1zM68 319h1v1h-1zM71 310h1v1h-1zM47 342h1v1h-1zM99 337h1v1h-1zM85 339h1v1h-1zM70 322h1v1h-1zM96 321h1v1h-1zM56 344h1v1h-1zM68 316h1v1h-1zM69 305h1v1h-1zM98 294h1v1h-1zM48 290h1v1h-1zM65 304h1v1h-1zM70 333h1v1h-1zM94 320h1v1h-1zM65 299h1v1h-1zM55 303h1v1h-1zM66 329h1v1h-1zM56 340h1v1h-1zM53 337h1v1h-1zM82 342h1v1h-1zM81 306h1v1h-1zM101 343h1v1h-1zM62 338h1v1h-1zM47 307h1v1h-1zM93 334h1v1h-1zM49 318h1v1h-1zM64 302h1v1h-1zM91 320h1v1h-1zM76 301h1v1h-1zM47 320h1v1h-1zM99 334h1v1h-1zM73 321h1v1h-1zM48 310h1v1h-1zM107 318h1v1h-1zM54 304h1v1h-1zM72 338h1v1h-1zM55 317h1v1h-1zM63 313h1v1h-1zM105 317h1v1h-1zM64 300h1v1h-1zM56 306h1v1h-1zM77 296h1v1h-1zM55 326h1v1h-1zM75 320h1v1h-1zM85 345h1v1h-1zM63 306h1v1h-1zM71 320h1v1h-1zM97 340h1v1h-1zM102 302h1v1h-1zM108 309h1v1h-1zM72 343h1v1h-1zM68 313h1v1h-1zM96 318h1v1h-1zM46 315h1v1h-1zM78 326h1v1h-1zM98 303h1v1h-1zM55 304h1v1h-1zM50 339h1v1h-1zM60 324h1v1h-1zM77 322h1v1h-1zM67 309h1v1h-1zM80 321h1v1h-1zM70 299h1v1h-1zM101 306h1v1h-1zM85 314h1v1h-1zM83 327h1v1h-1zM85 308h1v1h-1zM55 314h1v1h-1zM60 305h1v1h-1zM45 327h1v1h-1zM87 330h1v1h-1zM99 320h1v1h-1zM51 306h1v1h-1zM51 310h1v1h-1zM94 334h1v1h-1zM93 307h1v1h-1zM51 307h1v1h-1zM91 322h1v1h-1zM80 310h1v1h-1zM97 305h1v1h-1zM85 340h1v1h-1zM60 326h1v1h-1zM85 326h1v1h-1zM77 293h1v1h-1zM51 297h1v1h-1zM50 307h1v1h-1zM43 336h1v1h-1zM82 314h1v1h-1zM75 326h1v1h-1zM56 321h1v1h-1zM51 324h1v1h-1zM79 302h1v1h-1zM87 310h1v1h-1zM68 311h1v1h-1zM99 325h1v1h-1zM74 304h1v1h-1zM60 343h1v1h-1zM63 319h1v1h-1zM79 332h1v1h-1zM62 339h1v1h-1zM44 334h1v1h-1zM87 324h1v1h-1zM96 343h1v1h-1zM106 311h1v1h-1zM107 315h1v1h-1zM90 294h1v1h-1zM71 326h1v1h-1zM69 315h1v1h-1zM84 324h1v1h-1zM53 319h1v1h-1zM90 303h1v1h-1zM49 329h1v1h-1zM56 290h1v1h-1zM78 331h1v1h-1zM69 300h1v1h-1zM49 315h1v1h-1zM51 326h1v1h-1zM50 330h1v1h-1zM83 331h1v1h-1zM48 322h1v1h-1zM45 305h1v1h-1zM53 309h1v1h-1zM94 313h1v1h-1zM49 307h1v1h-1zM94 335h1v1h-1zM90 309h1v1h-1zM48 317h1v1h-1zM90 304h1v1h-1zM72 307h1v1h-1zM84 291h1v1h-1zM98 329h1v1h-1zM56 317h1v1h-1zM70 328h1v1h-1zM82 299h1v1h-1zM69 342h1v1h-1zM72 313h1v1h-1zM54 329h1v1h-1zM67 323h1v1h-1zM91 324h1v1h-1zM50 320h1v1h-1zM81 320h1v1h-1zM102 322h1v1h-1zM49 325h1v1h-1zM71 309h1v1h-1zM56 313h1v1h-1zM79 343h1v1h-1zM82 318h1v1h-1zM65 313h1v1h-1zM83 316h1v1h-1zM99 327h1v1h-1zM69 325h1v1h-1zM98 327h1v1h-1zM47 314h1v1h-1zM45 328h1v1h-1zM71 306h1v1h-1zM51 334h1v1h-1zM61 341h1v1h-1zM47 331h1v1h-1zM90 322h1v1h-1zM92 325h1v1h-1zM68 341h1v1h-1zM52 338h1v1h-1zM72 318h1v1h-1zM98 315h1v1h-1zM57 297h1v1h-1zM95 326h1v1h-1zM77 307h1v1h-1zM61 303h1v1h-1zM97 335h1v1h-1zM79 336h1v1h-1zM66 316h1v1h-1zM103 302h1v1h-1zM91 333h1v1h-1zM98 343h1v1h-1zM109 313h1v1h-1zM81 338h1v1h-1zM50 321h1v1h-1zM68 333h1v1h-1zM74 325h1v1h-1zM53 308h1v1h-1zM47 333h1v1h-1zM45 343h1v1h-1zM54 302h1v1h-1zM99 323h1v1h-1zM94 329h1v1h-1zM80 290h1v1h-1zM50 313h1v1h-1zM81 341h1v1h-1zM46 339h1v1h-1zM51 325h1v1h-1zM76 312h1v1h-1zM99 335h1v1h-1zM60 320h1v1h-1zM62 322h1v1h-1zM92 333h1v1h-1zM89 335h1v1h-1zM71 342h1v1h-1zM59 328h1v1h-1zM50 332h1v1h-1zM81 345h1v1h-1zM104 331h1v1h-1zM89 344h1v1h-1zM64 294h1v1h-1zM61 336h1v1h-1zM54 314h1v1h-1zM56 345h1v1h-1zM99 319h1v1h-1zM81 309h1v1h-1zM73 318h1v1h-1zM50 345h1v1h-1zM51 305h1v1h-1zM95 297h1v1h-1zM70 313h1v1h-1zM93 312h1v1h-1zM93 321h1v1h-1zM58 297h1v1h-1zM51 328h1v1h-1zM89 316h1v1h-1zM83 309h1v1h-1zM59 343h1v1h-1zM52 335h1v1h-1zM47 309h1v1h-1zM51 315h1v1h-1zM90 339h1v1h-1zM100 326h1v1h-1zM95 334h1v1h-1zM99 326h1v1h-1zM52 304h1v1h-1zM89 343h1v1h-1zM57 293h1v1h-1zM62 309h1v1h-1zM75 316h1v1h-1zM75 304h1v1h-1zM87 322h1v1h-1zM54 308h1v1h-1zM70 324h1v1h-1zM79 313h1v1h-1zM98 328h1v1h-1zM78 314h1v1h-1zM73 300h1v1h-1zM51 309h1v1h-1zM72 325h1v1h-1zM79 338h1v1h-1zM79 307h1v1h-1zM71 315h1v1h-1zM47 294h1v1h-1zM51 335h1v1h-1zM66 310h1v1h-1zM81 325h1v1h-1zM64 309h1v1h-1zM94 314h1v1h-1zM71 317h1v1h-1zM98 336h1v1h-1zM107 310h1v1h-1zM68 314h1v1h-1zM75 305h1v1h-1zM58 342h1v1h-1zM86 314h1v1h-1zM71 339h1v1h-1zM86 320h1v1h-1zM46 342h1v1h-1zM86 312h1v1h-1zM52 323h1v1h-1zM67 298h1v1h-1zM95 310h1v1h-1zM86 330h1v1h-1zM92 314h1v1h-1zM101 318h1v1h-1zM87 335h1v1h-1zM81 308h1v1h-1zM100 338h1v1h-1zM99 307h1v1h-1zM57 320h1v1h-1zM80 324h1v1h-1zM61 292h1v1h-1zM53 302h1v1h-1zM73 302h1v1h-1zM74 319h1v1h-1zM69 320h1v1h-1zM80 330h1v1h-1zM75 321h1v1h-1zM104 328h1v1h-1zM79 330h1v1h-1zM72 311h1v1h-1zM50 310h1v1h-1zM76 299h1v1h-1zM96 315h1v1h-1zM84 312h1v1h-1zM94 345h1v1h-1zM49 308h1v1h-1zM77 329h1v1h-1zM52 320h1v1h-1zM72 345h1v1h-1zM78 342h1v1h-1zM85 334h1v1h-1zM45 330h1v1h-1zM61 300h1v1h-1zM47 301h1v1h-1zM84 335h1v1h-1zM82 325h1v1h-1zM103 320h1v1h-1zM65 344h1v1h-1zM54 340h1v1h-1zM94 324h1v1h-1zM87 329h1v1h-1zM102 312h1v1h-1zM59 307h1v1h-1zM56 300h1v1h-1zM59 325h1v1h-1zM90 321h1v1h-1zM69 302h1v1h-1zM79 322h1v1h-1zM54 342h1v1h-1zM95 345h1v1h-1zM62 318h1v1h-1zM61 301h1v1h-1zM73 303h1v1h-1zM106 301h1v1h-1zM53 345h1v1h-1zM69 337h1v1h-1zM91 341h1v1h-1zM79 306h1v1h-1zM44 321h1v1h-1zM99 317h1v1h-1zM63 301h1v1h-1zM48 327h1v1h-1zM102 305h1v1h-1zM85 316h1v1h-1zM45 321h1v1h-1zM63 344h1v1h-1zM81 337h1v1h-1zM51 302h1v1h-1zM86 303h1v1h-1zM84 343h1v1h-1zM44 310h1v1h-1zM89 309h1v1h-1zM67 332h1v1h-1zM89 308h1v1h-1zM63 343h1v1h-1zM80 317h1v1h-1zM68 309h1v1h-1zM87 319h1v1h-1zM85 298h1v1h-1zM82 339h1v1h-1zM47 344h1v1h-1zM55 310h1v1h-1zM108 312h1v1h-1zM85 337h1v1h-1zM58 333h1v1h-1zM103 331h1v1h-1zM93 304h1v1h-1zM88 339h1v1h-1zM78 306h1v1h-1zM53 342h1v1h-1zM83 323h1v1h-1zM89 317h1v1h-1zM77 314h1v1h-1zM66 309h1v1h-1zM84 307h1v1h-1zM50 303h1v1h-1zM69 310h1v1h-1zM51 327h1v1h-1zM102 314h1v1h-1zM78 330h1v1h-1zM71 343h1v1h-1zM50 324h1v1h-1zM68 304h1v1h-1zM65 317h1v1h-1zM55 321h1v1h-1zM69 309h1v1h-1zM52 315h1v1h-1zM62 343h1v1h-1zM47 291h1v1h-1zM44 313h1v1h-1zM76 302h1v1h-1zM86 344h1v1h-1zM59 311h1v1h-1zM93 309h1v1h-1zM103 329h1v1h-1zM96 334h1v1h-1zM53 313h1v1h-1zM75 322h1v1h-1zM85 318h1v1h-1zM50 317h1v1h-1zM96 324h1v1h-1zM86 304h1v1h-1zM100 297h1v1h-1zM54 298h1v1h-1zM100 320h1v1h-1zM65 329h1v1h-1zM65 336h1v1h-1zM91 325h1v1h-1zM61 313h1v1h-1zM110 314h1v1h-1zM47 319h1v1h-1zM75 328h1v1h-1zM94 338h1v1h-1zM64 306h1v1h-1zM63 316h1v1h-1zM70 308h1v1h-1zM82 331h1v1h-1zM92 295h1v1h-1zM60 309h1v1h-1zM100 318h1v1h-1zM57 342h1v1h-1zM46 323h1v1h-1zM107 320h1v1h-1zM87 340h1v1h-1zM71 318h1v1h-1zM91 309h1v1h-1zM74 320h1v1h-1zM42 326h1v1h-1zM104 291h1v1h-1zM89 331h1v1h-1zM98 320h1v1h-1zM72 326h1v1h-1zM70 317h1v1h-1zM102 324h1v1h-1zM87 327h1v1h-1zM58 321h1v1h-1zM89 304h1v1h-1zM48 341h1v1h-1zM65 307h1v1h-1zM95 316h1v1h-1zM91 327h1v1h-1zM67 314h1v1h-1zM97 325h1v1h-1zM88 300h1v1h-1zM64 308h1v1h-1zM48 307h1v1h-1zM96 328h1v1h-1zM57 301h1v1h-1zM50 340h1v1h-1zM85 330h1v1h-1zM97 318h1v1h-1zM52 325h1v1h-1zM63 342h1v1h-1zM95 315h1v1h-1zM60 318h1v1h-1zM74 309h1v1h-1zM49 319h1v1h-1zM55 344h1v1h-1zM76 323h1v1h-1zM107 308h1v1h-1zM86 316h1v1h-1zM47 299h1v1h-1zM86 340h1v1h-1zM83 310h1v1h-1zM47 321h1v1h-1zM52 319h1v1h-1zM92 308h1v1h-1zM87 315h1v1h-1zM92 329h1v1h-1zM83 337h1v1h-1zM71 313h1v1h-1zM86 319h1v1h-1zM91 337h1v1h-1zM48 314h1v1h-1zM73 317h1v1h-1zM57 304h1v1h-1zM53 331h1v1h-1zM62 340h1v1h-1zM108 321h1v1h-1zM91 305h1v1h-1zM87 334h1v1h-1zM73 343h1v1h-1zM100 340h1v1h-1zM76 326h1v1h-1zM78 320h1v1h-1zM68 324h1v1h-1zM77 343h1v1h-1zM78 318h1v1h-1zM66 308h1v1h-1zM75 327h1v1h-1zM53 314h1v1h-1zM74 342h1v1h-1zM108 328h1v1h-1zM104 292h1v1h-1zM100 311h1v1h-1zM49 324h1v1h-1zM81 312h1v1h-1zM62 305h1v1h-1zM73 311h1v1h-1zM77 340h1v1h-1zM97 315h1v1h-1zM53 307h1v1h-1zM87 307h1v1h-1zM92 342h1v1h-1zM99 316h1v1h-1zM76 315h1v1h-1zM96 332h1v1h-1zM91 310h1v1h-1zM100 304h1v1h-1zM98 317h1v1h-1zM89 342h1v1h-1zM102 318h1v1h-1zM104 334h1v1h-1zM95 333h1v1h-1zM90 337h1v1h-1zM56 303h1v1h-1zM107 337h1v1h-1zM82 315h1v1h-1zM102 340h1v1h-1zM57 334h1v1h-1zM62 307h1v1h-1zM84 328h1v1h-1zM97 320h1v1h-1zM87 320h1v1h-1zM105 325h1v1h-1zM86 327h1v1h-1zM100 329h1v1h-1zM56 331h1v1h-1zM105 344h1v1h-1zM66 303h1v1h-1zM59 306h1v1h-1zM91 315h1v1h-1zM73 336h1v1h-1zM85 336h1v1h-1zM81 339h1v1h-1zM57 343h1v1h-1zM69 314h1v1h-1zM77 313h1v1h-1zM78 309h1v1h-1zM52 337h1v1h-1zM84 317h1v1h-1zM77 317h1v1h-1zM94 323h1v1h-1zM75 345h1v1h-1zM74 311h1v1h-1zM60 300h1v1h-1zM105 335h1v1h-1zM45 298h1v1h-1zM105 330h1v1h-1zM79 344h1v1h-1zM80 345h1v1h-1zM95 343h1v1h-1zM87 314h1v1h-1zM60 334h1v1h-1zM45 323h1v1h-1zM69 344h1v1h-1zM91 314h1v1h-1zM57 341h1v1h-1zM110 325h1v1h-1zM60 303h1v1h-1zM59 300h1v1h-1zM87 316h1v1h-1zM64 323h1v1h-1zM104 296h1v1h-1zM101 317h1v1h-1zM61 309h1v1h-1zM71 316h1v1h-1zM43 316h1v1h-1zM104 312h1v1h-1zM108 318h1v1h-1zM98 331h1v1h-1zM56 324h1v1h-1zM50 301h1v1h-1zM73 326h1v1h-1zM76 332h1v1h-1zM66 299h1v1h-1zM55 335h1v1h-1zM77 312h1v1h-1zM73 344h1v1h-1zM90 335h1v1h-1zM70 339h1v1h-1zM53 300h1v1h-1zM77 326h1v1h-1zM49 345h1v1h-1zM75 339h1v1h-1zM62 344h1v1h-1zM96 319h1v1h-1zM95 306h1v1h-1zM78 328h1v1h-1zM104 309h1v1h-1zM58 344h1v1h-1zM79 327h1v1h-1zM108 310h1v1h-1zM64 341h1v1h-1zM62 341h1v1h-1zM94 337h1v1h-1zM80 338h1v1h-1zM72 315h1v1h-1zM77 305h1v1h-1zM100 342h1v1h-1zM70 342h1v1h-1zM73 308h1v1h-1zM86 336h1v1h-1zM95 317h1v1h-1zM88 328h1v1h-1zM49 323h1v1h-1zM101 331h1v1h-1zM83 345h1v1h-1zM81 321h1v1h-1zM57 306h1v1h-1zM53 343h1v1h-1zM60 331h1v1h-1zM69 311h1v1h-1zM58 295h1v1h-1zM61 311h1v1h-1zM99 329h1v1h-1zM52 328h1v1h-1zM45 309h1v1h-1zM108 333h1v1h-1zM55 323h1v1h-1zM53 322h1v1h-1z" fill="#000" fill-opacity="0.6"/>
<path d="M67 320h1v1h-1zM85 327h1v1h-1zM52 316h1v1h-1zM86 329h1v1h-1zM59 308h1v1h-1zM52 330h1v1h-1zM48 345h1v1h-1zM52 321h1v1h-1zM79 325h1v1h-1zM56 320h1v1h-1zM62 317h1v1h-1zM60 342h1v1h-1zM62 320h1v1h-1zM66 336h1v1h-1zM65 331h1v1h-1zM48 323h1v1h-1zM59 326h1v1h-1zM80 318h1v1h-1zM70 330h1v1h-1zM53 329h1v1h-1zM56 334h1v1h-1zM60 340h1v1h-1zM64 310h1v1h-1zM67 304h1v1h-1zM51 338h1v1h-1zM75 324h1v1h-1zM94 322h1v1h-1zM72 333h1v1h-1zM54 344h1v1h-1zM79 324h1v1h-1zM64 322h1v1h-1zM90 312h1v1h-1zM73 333h1v1h-1zM56 318h1v1h-1zM47 338h1v1h-1zM82 338h1v1h-1zM105 334h1v1h-1zM78 310h1v1h-1zM101 332h1v1h-1zM61 307h1v1h-1zM98 312h1v1h-1zM91 334h1v1h-1zM73 301h1v1h-1zM50 325h1v1h-1zM59 334h1v1h-1zM71 325h1v1h-1zM95 332h1v1h-1zM60 292h1v1h-1zM86 341h1v1h-1zM76 344h1v1h-1zM95 327h1v1h-1zM83 328h1v1h-1zM97 330h1v1h-1zM65 322h1v1h-1zM81 336h1v1h-1zM89 339h1v1h-1zM110 310h1v1h-1zM52 309h1v1h-1zM49 304h1v1h-1zM73 337h1v1h-1zM59 312h1v1h-1zM64 314h1v1h-1zM89 325h1v1h-1zM55 308h1v1h-1zM93 341h1v1h-1zM73 305h1v1h-1zM51 316h1v1h-1zM60 304h1v1h-1zM50 333h1v1h-1zM68 312h1v1h-1zM60 312h1v1h-1zM73 313h1v1h-1zM60 306h1v1h-1zM96 317h1v1h-1zM66 338h1v1h-1zM92 343h1v1h-1zM65 320h1v1h-1zM78 340h1v1h-1zM92 344h1v1h-1zM48 337h1v1h-1zM76 340h1v1h-1zM75 330h1v1h-1zM80 323h1v1h-1zM69 318h1v1h-1zM49 328h1v1h-1zM60 310h1v1h-1zM54 326h1v1h-1zM87 339h1v1h-1zM74 332h1v1h-1zM68 338h1v1h-1zM81 318h1v1h-1zM63 308h1v1h-1zM88 338h1v1h-1zM95 313h1v1h-1zM60 335h1v1h-1zM83 311h1v1h-1zM83 320h1v1h-1zM63 339h1v1h-1zM53 321h1v1h-1zM65 334h1v1h-1zM90 326h1v1h-1zM63 325h1v1h-1zM82 343h1v1h-1zM54 327h1v1h-1zM55 319h1v1h-1zM46 336h1v1h-1zM56 338h1v1h-1zM51 341h1v1h-1zM81 330h1v1h-1zM58 337h1v1h-1zM59 324h1v1h-1zM52 317h1v1h-1zM57 322h1v1h-1zM90 306h1v1h-1zM53 339h1v1h-1zM58 328h1v1h-1zM56 341h1v1h-1zM77 336h1v1h-1zM73 331h1v1h-1zM47 311h1v1h-1zM95 319h1v1h-1zM71 311h1v1h-1zM47 339h1v1h-1zM74 327h1v1h-1zM87 338h1v1h-1zM72 328h1v1h-1zM50 315h1v1h-1zM80 329h1v1h-1zM67 325h1v1h-1zM71 330h1v1h-1zM47 323h1v1h-1zM47 330h1v1h-1zM67 316h1v1h-1zM55 327h1v1h-1zM90 332h1v1h-1zM79 317h1v1h-1zM59 321h1v1h-1zM74 328h1v1h-1zM66 343h1v1h-1zM67 319h1v1h-1zM96 323h1v1h-1zM80 335h1v1h-1zM70 316h1v1h-1zM56 339h1v1h-1zM82 345h1v1h-1zM92 334h1v1h-1zM74 343h1v1h-1zM54 324h1v1h-1zM63 337h1v1h-1zM68 318h1v1h-1zM65 319h1v1h-1zM74 336h1v1h-1zM61 329h1v1h-1zM54 309h1v1h-1zM67 331h1v1h-1zM98 330h1v1h-1zM69 313h1v1h-1zM71 341h1v1h-1zM92 337h1v1h-1zM58 314h1v1h-1zM61 342h1v1h-1zM57 325h1v1h-1zM49 327h1v1h-1zM89 319h1v1h-1zM86 333h1v1h-1zM62 313h1v1h-1zM56 343h1v1h-1zM61 327h1v1h-1zM92 332h1v1h-1zM78 343h1v1h-1zM72 327h1v1h-1zM93 331h1v1h-1zM94 336h1v1h-1zM77 308h1v1h-1zM72 320h1v1h-1zM78 336h1v1h-1zM63 326h1v1h-1zM103 336h1v1h-1zM81 342h1v1h-1zM95 322h1v1h-1zM50 304h1v1h-1zM62 331h1v1h-1zM71 334h1v1h-1zM66 331h1v1h-1zM84 340h1v1h-1zM51 317h1v1h-1zM49 317h1v1h-1zM73 329h1v1h-1zM54 307h1v1h-1zM91 316h1v1h-1zM51 330h1v1h-1zM88 342h1v1h-1zM73 340h1v1h-1zM57 344h1v1h-1zM69 335h1v1h-1zM85 312h1v1h-1zM77 321h1v1h-1zM73 319h1v1h-1zM61 305h1v1h-1zM53 312h1v1h-1zM94 328h1v1h-1zM73 325h1v1h-1zM69 321h1v1h-1zM53 334h1v1h-1zM57 312h1v1h-1zM83 335h1v1h-1zM50 314h1v1h-1zM96 336h1v1h-1zM61 334h1v1h-1zM76 329h1v1h-1zM62 308h1v1h-1zM67 310h1v1h-1zM77 331h1v1h-1zM78 316h1v1h-1zM63 315h1v1h-1zM91 340h1v1h-1zM81 329h1v1h-1zM83 334h1v1h-1zM95 338h1v1h-1zM67 339h1v1h-1zM84 337h1v1h-1zM74 321h1v1h-1zM98 324h1v1h-1zM63 340h1v1h-1zM66 345h1v1h-1zM74 340h1v1h-1zM76 322h1v1h-1zM92 326h1v1h-1zM60 332h1v1h-1zM66 315h1v1h-1zM57 317h1v1h-1zM52 332h1v1h-1zM69 330h1v1h-1zM80 315h1v1h-1zM79 329h1v1h-1zM50 318h1v1h-1zM56 307h1v1h-1zM59 317h1v1h-1zM83 340h1v1h-1zM89 326h1v1h-1zM70 334h1v1h-1zM75 332h1v1h-1zM89 322h1v1h-1zM48 332h1v1h-1zM86 322h1v1h-1zM98 321h1v1h-1zM58 336h1v1h-1zM76 327h1v1h-1zM101 307h1v1h-1zM56 311h1v1h-1zM49 344h1v1h-1zM92 340h1v1h-1zM93 319h1v1h-1zM54 317h1v1h-1zM47 322h1v1h-1zM57 332h1v1h-1zM63 310h1v1h-1zM88 327h1v1h-1zM49 311h1v1h-1zM49 313h1v1h-1zM47 316h1v1h-1zM46 320h1v1h-1zM93 332h1v1h-1zM101 324h1v1h-1zM78 338h1v1h-1zM56 326h1v1h-1zM86 323h1v1h-1zM65 333h1v1h-1zM87 313h1v1h-1zM84 327h1v1h-1zM64 332h1v1h-1zM84 341h1v1h-1zM59 316h1v1h-1zM63 324h1v1h-1zM66 327h1v1h-1zM62 302h1v1h-1zM89 330h1v1h-1zM55 339h1v1h-1zM70 329h1v1h-1zM64 333h1v1h-1zM64 342h1v1h-1zM67 335h1v1h-1zM55 309h1v1h-1zM82 319h1v1h-1zM62 312h1v1h-1zM78 337h1v1h-1zM63 336h1v1h-1zM82 327h1v1h-1zM74 317h1v1h-1zM63 322h1v1h-1zM64 343h1v1h-1zM50 326h1v1h-1zM86 325h1v1h-1zM89 323h1v1h-1zM85 325h1v1h-1zM56 319h1v1h-1zM57 311h1v1h-1zM58 334h1v1h-1zM83 344h1v1h-1zM85 342h1v1h-1zM75 317h1v1h-1zM90 300h1v1h-1zM69 336h1v1h-1zM83 329h1v1h-1zM70 320h1v1h-1zM66 326h1v1h-1zM90 318h1v1h-1zM65 337h1v1h-1zM53 330h1v1h-1zM51 308h1v1h-1zM66 340h1v1h-1zM53 324h1v1h-1zM73 324h1v1h-1zM89 320h1v1h-1zM74 329h1v1h-1zM86 339h1v1h-1zM87 325h1v1h-1zM52 333h1v1h-1zM51 329h1v1h-1zM70 312h1v1h-1zM69 319h1v1h-1zM45 314h1v1h-1zM94 304h1v1h-1zM67 315h1v1h-1zM51 323h1v1h-1zM65 332h1v1h-1zM84 316h1v1h-1zM72 335h1v1h-1zM90 299h1v1h-1zM50 331h1v1h-1zM69 341h1v1h-1zM63 304h1v1h-1zM88 330h1v1h-1zM93 330h1v1h-1zM81 326h1v1h-1zM58 335h1v1h-1zM88 335h1v1h-1zM102 326h1v1h-1zM45 296h1v1h-1zM86 331h1v1h-1zM85 319h1v1h-1zM85 338h1v1h-1zM72 306h1v1h-1zM55 341h1v1h-1zM93 328h1v1h-1zM50 312h1v1h-1zM66 320h1v1h-1zM79 334h1v1h-1zM84 309h1v1h-1zM72 331h1v1h-1zM105 340h1v1h-1zM92 331h1v1h-1zM66 319h1v1h-1zM106 325h1v1h-1zM92 324h1v1h-1zM80 341h1v1h-1zM67 330h1v1h-1zM90 331h1v1h-1zM80 339h1v1h-1zM53 325h1v1h-1zM87 317h1v1h-1zM49 312h1v1h-1zM95 329h1v1h-1zM73 322h1v1h-1zM84 334h1v1h-1zM66 317h1v1h-1zM49 339h1v1h-1zM64 328h1v1h-1zM88 331h1v1h-1zM51 342h1v1h-1zM87 306h1v1h-1zM62 333h1v1h-1zM55 343h1v1h-1zM55 333h1v1h-1zM68 345h1v1h-1zM55 302h1v1h-1zM56 336h1v1h-1zM69 333h1v1h-1zM55 332h1v1h-1zM53 341h1v1h-1zM68 337h1v1h-1zM71 338h1v1h-1zM49 341h1v1h-1zM78 321h1v1h-1zM72 317h1v1h-1zM53 336h1v1h-1zM52 327h1v1h-1zM54 321h1v1h-1zM57 338h1v1h-1zM92 327h1v1h-1zM51 320h1v1h-1zM65 316h1v1h-1zM67 318h1v1h-1zM91 326h1v1h-1zM91 339h1v1h-1zM51 340h1v1h-1zM55 336h1v1h-1zM67 326h1v1h-1zM81 317h1v1h-1zM53 340h1v1h-1zM88 329h1v1h-1zM82 322h1v1h-1zM51 318h1v1h-1zM55 318h1v1h-1zM64 340h1v1h-1zM54 336h1v1h-1zM64 331h1v1h-1zM66 341h1v1h-1zM92 335h1v1h-1zM90 317h1v1h-1zM91 343h1v1h-1zM45 337h1v1h-1zM84 323h1v1h-1zM55 325h1v1h-1zM59 310h1v1h-1z" fill="#000" fill-opacity="0.8"/>
<path d="M54 330h1v1h-1zM64 335h1v1h-1zM49 333h1v1h-1zM54 311h1v1h-1zM58 332h1v1h-1zM62 335h1v1h-1zM58 340h1v1h-1zM71 329h1v1h-1zM55 320h1v1h-1zM75 337h1v1h-1zM70 326h1v1h-1zM62 319h1v1h-1zM76 336h1v1h-1zM61 328h1v1h-1zM63 320h1v1h-1zM76 343h1v1h-1zM76 330h1v1h-1zM60 336h1v1h-1zM58 310h1v1h-1zM87 328h1v1h-1zM60 313h1v1h-1zM54 316h1v1h-1zM68 330h1v1h-1zM57 330h1v1h-1zM89 327h1v1h-1zM67 329h1v1h-1zM65 339h1v1h-1zM59 314h1v1h-1zM69 323h1v1h-1zM67 317h1v1h-1zM69 332h1v1h-1zM59 319h1v1h-1zM76 338h1v1h-1zM73 335h1v1h-1zM68 339h1v1h-1zM78 339h1v1h-1zM82 335h1v1h-1zM65 327h1v1h-1zM74 334h1v1h-1zM68 328h1v1h-1zM47 324h1v1h-1zM63 321h1v1h-1zM59 318h1v1h-1zM56 309h1v1h-1zM56 315h1v1h-1zM54 332h1v1h-1zM52 307h1v1h-1zM63 335h1v1h-1zM72 329h1v1h-1zM84 326h1v1h-1zM78 332h1v1h-1zM76 339h1v1h-1zM61 312h1v1h-1zM62 315h1v1h-1zM58 326h1v1h-1zM75 333h1v1h-1zM65 342h1v1h-1zM71 340h1v1h-1zM66 318h1v1h-1zM61 317h1v1h-1zM80 332h1v1h-1zM57 318h1v1h-1zM50 341h1v1h-1zM71 328h1v1h-1zM74 323h1v1h-1zM58 306h1v1h-1zM64 318h1v1h-1zM49 310h1v1h-1zM59 336h1v1h-1zM66 330h1v1h-1zM74 322h1v1h-1zM64 334h1v1h-1zM68 332h1v1h-1zM69 326h1v1h-1zM88 333h1v1h-1zM46 322h1v1h-1zM57 323h1v1h-1zM65 321h1v1h-1zM72 330h1v1h-1zM82 340h1v1h-1zM66 321h1v1h-1zM59 323h1v1h-1zM65 325h1v1h-1zM79 320h1v1h-1zM76 337h1v1h-1zM63 318h1v1h-1zM52 344h1v1h-1zM58 341h1v1h-1zM72 340h1v1h-1zM73 338h1v1h-1zM78 324h1v1h-1zM65 326h1v1h-1zM58 320h1v1h-1zM61 333h1v1h-1zM68 299h1v1h-1zM91 342h1v1h-1zM55 337h1v1h-1zM71 335h1v1h-1zM59 313h1v1h-1zM64 338h1v1h-1zM59 322h1v1h-1zM51 331h1v1h-1zM80 336h1v1h-1zM70 335h1v1h-1zM69 324h1v1h-1zM63 314h1v1h-1zM93 326h1v1h-1zM84 333h1v1h-1zM88 334h1v1h-1zM77 332h1v1h-1zM56 322h1v1h-1zM61 325h1v1h-1zM55 301h1v1h-1zM82 332h1v1h-1zM61 322h1v1h-1zM64 336h1v1h-1zM78 335h1v1h-1zM64 327h1v1h-1zM69 328h1v1h-1zM71 333h1v1h-1zM68 326h1v1h-1zM67 328h1v1h-1zM92 323h1v1h-1zM62 324h1v1h-1zM68 317h1v1h-1zM73 328h1v1h-1zM65 340h1v1h-1zM75 335h1v1h-1zM54 325h1v1h-1zM52 313h1v1h-1zM56 337h1v1h-1zM95 330h1v1h-1zM76 334h1v1h-1zM68 327h1v1h-1zM58 329h1v1h-1zM90 325h1v1h-1zM59 320h1v1h-1zM66 324h1v1h-1zM56 329h1v1h-1zM62 326h1v1h-1zM56 332h1v1h-1zM80 328h1v1h-1zM73 330h1v1h-1zM87 333h1v1h-1zM87 318h1v1h-1zM72 332h1v1h-1zM71 337h1v1h-1zM61 335h1v1h-1zM58 331h1v1h-1zM89 329h1v1h-1zM61 343h1v1h-1zM96 333h1v1h-1zM63 338h1v1h-1zM75 341h1v1h-1zM59 335h1v1h-1zM54 320h1v1h-1zM96 329h1v1h-1zM91 336h1v1h-1zM66 333h1v1h-1zM64 316h1v1h-1zM73 334h1v1h-1zM57 328h1v1h-1zM61 319h1v1h-1zM85 331h1v1h-1zM58 338h1v1h-1zM74 333h1v1h-1zM54 334h1v1h-1zM79 333h1v1h-1zM70 332h1v1h-1zM61 323h1v1h-1zM64 312h1v1h-1zM69 339h1v1h-1zM53 320h1v1h-1zM59 338h1v1h-1zM73 339h1v1h-1zM70 336h1v1h-1zM60 325h1v1h-1zM58 325h1v1h-1zM60 329h1v1h-1zM93 320h1v1h-1zM89 328h1v1h-1zM68 329h1v1h-1zM57 331h1v1h-1zM79 337h1v1h-1zM67 334h1v1h-1zM81 327h1v1h-1zM70 327h1v1h-1zM61 314h1v1h-1zM63 331h1v1h-1zM52 334h1v1h-1zM85 324h1v1h-1zM68 325h1v1h-1zM56 314h1v1h-1zM84 332h1v1h-1zM68 310h1v1h-1zM56 333h1v1h-1zM90 327h1v1h-1zM58 324h1v1h-1zM77 344h1v1h-1zM54 319h1v1h-1zM73 332h1v1h-1zM67 327h1v1h-1zM77 341h1v1h-1zM58 323h1v1h-1zM65 330h1v1h-1zM49 330h1v1h-1zM56 323h1v1h-1zM60 314h1v1h-1zM65 341h1v1h-1zM68 331h1v1h-1zM64 321h1v1h-1zM54 333h1v1h-1zM63 341h1v1h-1zM57 339h1v1h-1zM63 307h1v1h-1zM59 332h1v1h-1zM65 324h1v1h-1zM68 336h1v1h-1zM75 325h1v1h-1zM68 321h1v1h-1zM84 336h1v1h-1zM86 324h1v1h-1zM83 332h1v1h-1zM59 330h1v1h-1zM63 327h1v1h-1zM71 321h1v1h-1zM62 334h1v1h-1zM79 340h1v1h-1zM60 339h1v1h-1zM78 327h1v1h-1zM82 330h1v1h-1zM64 330h1v1h-1zM59 340h1v1h-1zM53 304h1v1h-1zM78 333h1v1h-1zM75 331h1v1h-1zM52 329h1v1h-1zM66 328h1v1h-1zM70 318h1v1h-1zM65 318h1v1h-1zM80 333h1v1h-1zM86 338h1v1h-1zM89 336h1v1h-1zM61 331h1v1h-1zM68 335h1v1h-1zM49 320h1v1h-1zM52 336h1v1h-1zM54 315h1v1h-1zM62 336h1v1h-1zM64 326h1v1h-1zM75 338h1v1h-1zM53 333h1v1h-1zM64 317h1v1h-1zM74 330h1v1h-1zM64 307h1v1h-1zM53 323h1v1h-1zM62 332h1v1h-1zM70 338h1v1h-1zM60 337h1v1h-1zM58 304h1v1h-1zM62 330h1v1h-1zM57 307h1v1h-1zM68 334h1v1h-1zM69 327h1v1h-1zM70 337h1v1h-1zM58 313h1v1h-1zM59 329h1v1h-1zM90 333h1v1h-1zM57 326h1v1h-1zM52 311h1v1h-1zM79 328h1v1h-1zM91 335h1v1h-1zM61 320h1v1h-1zM58 330h1v1h-1zM61 332h1v1h-1zM61 330h1v1h-1zM60 328h1v1h-1zM55 322h1v1h-1zM54 335h1v1h-1zM69 340h1v1h-1zM91 319h1v1h-1zM67 340h1v1h-1zM53 316h1v1h-1zM51 337h1v1h-1zM64 344h1v1h-1zM77 333h1v1h-1zM60 327h1v1h-1zM67 336h1v1h-1zM66 335h1v1h-1zM60 319h1v1h-1zM62 329h1v1h-1zM60 323h1v1h-1zM89 334h1v1h-1zM80 334h1v1h-1zM58 339h1v1h-1zM60 322h1v1h-1zM64 313h1v1h-1zM55 334h1v1h-1zM70 340h1v1h-1zM80 331h1v1h-1zM54 331h1v1h-1zM61 318h1v1h-1zM74 331h1v1h-1zM72 336h1v1h-1zM57 336h1v1h-1zM63 334h1v1h-1zM64 337h1v1h-1zM83 341h1v1h-1zM65 335h1v1h-1zM69 334h1v1h-1zM74 339h1v1h-1zM62 321h1v1h-1zM65 345h1v1h-1zM66 314h1v1h-1zM53 317h1v1h-1zM52 326h1v1h-1zM76 321h1v1h-1zM83 326h1v1h-1zM81 335h1v1h-1zM71 331h1v1h-1zM96 338h1v1h-1zM81 333h1v1h-1zM57 314h1v1h-1zM76 309h1v1h-1zM62 337h1v1h-1zM89 332h1v1h-1zM66 332h1v1h-1zM62 323h1v1h-1zM85 335h1v1h-1zM57 335h1v1h-1zM62 316h1v1h-1zM62 328h1v1h-1zM60 338h1v1h-1zM71 336h1v1h-1zM56 325h1v1h-1zM79 345h1v1h-1zM82 336h1v1h-1zM82 337h1v1h-1zM63 323h1v1h-1zM70 319h1v1h-1zM69 331h1v1h-1zM53 327h1v1h-1zM57 333h1v1h-1zM77 328h1v1h-1zM76 333h1v1h-1zM57 337h1v1h-1zM64 325h1v1h-1zM55 328h1v1h-1zM67 333h1v1h-1zM65 338h1v1h-1zM95 328h1v1h-1zM76 341h1v1h-1zM84 339h1v1h-1zM64 315h1v1h-1zM67 324h1v1h-1zM77 338h1v1h-1zM58 309h1v1h-1zM63 317h1v1h-1zM71 332h1v1h-1zM78 344h1v1h-1zM54 337h1v1h-1zM83 343h1v1h-1zM49 331h1v1h-1zM72 339h1v1h-1zM52 305h1v1h-1zM88 319h1v1h-1zM88 337h1v1h-1zM63 333h1v1h-1zM73 320h1v1h-1zM68 320h1v1h-1zM72 334h1v1h-1zM66 339h1v1h-1zM55 305h1v1h-1zM74 335h1v1h-1zM83 333h1v1h-1zM58 318h1v1h-1zM57 309h1v1h-1zM95 323h1v1h-1zM59 341h1v1h-1zM66 337h1v1h-1zM57 324h1v1h-1zM52 312h1v1h-1zM59 339h1v1h-1zM60 330h1v1h-1zM70 331h1v1h-1zM72 337h1v1h-1zM72 323h1v1h-1zM80 325h1v1h-1zM60 333h1v1h-1zM57 327h1v1h-1zM66 325h1v1h-1zM50 308h1v1h-1zM91 330h1v1h-1zM55 313h1v1h-1zM75 329h1v1h-1zM63 330h1v1h-1zM66 334h1v1h-1zM61 324h1v1h-1zM59 333h1v1h-1zM61 321h1v1h-1zM63 332h1v1h-1zM67 343h1v1h-1zM61 316h1v1h-1zM65 314h1v1h-1zM74 338h1v1h-1zM62 327h1v1h-1zM61 337h1v1h-1zM69 345h1v1h-1zM67 341h1v1h-1zM55 329h1v1h-1zM67 312h1v1h-1zM47 334h1v1h-1zM85 332h1v1h-1zM94 333h1v1h-1zM58 327h1v1h-1zM69 338h1v1h-1zM79 339h1v1h-1zM54 318h1v1h-1zM59 327h1v1h-1z" fill="#000" fill-opacity="0.92"/>
<rect x="41.60" y="288.30" width="70.10" height="58.00" fill="none" stroke="#b5b5b5" stroke-width="1.0"/>
<line x1="67.30" y1="266.30" x2="67.30" y2="347.00" stroke="#8a8a8a" stroke-width="1.1"/>
<line x1="36.80" y1="322.70" x2="131.40" y2="322.70" stroke="#8a8a8a" stroke-width="1.1"/>
<rect x="36.80" y="266.30" width="94.60" height="80.70" fill="none" stroke="#5a5a5a" stroke-width="1.0"/>
<line x1="36.80" y1="347.00" x2="36.80" y2="348.50" stroke="#444" stroke-width="0.6"/>
<line x1="35.30" y1="347.00" x2="36.80" y2="347.00" stroke="#444" stroke-width="0.6"/>
<line x1="43.92" y1="347.00" x2="43.92" y2="348.50" stroke="#444" stroke-width="0.6"/>
<line x1="35.30" y1="340.93" x2="36.80" y2="340.93" stroke="#444" stroke-width="0.6"/>
<line x1="48.08" y1="347.00" x2="48.08" y2="348.50" stroke="#444" stroke-width="0.6"/>
<line x1="35.30" y1="337.37" x2="36.80" y2="337.37" stroke="#444" stroke-width="0.6"/>
<line x1="51.04" y1="347.00" x2="51.04" y2="348.50" stroke="#444" stroke-width="0.6"/>
<line x1="35.30" y1="334.85" x2="36.80" y2="334.85" stroke="#444" stroke-width="0.6"/>
<line x1="53.33" y1="347.00" x2="53.33" y2="348.50" stroke="#444" stroke-width="0.6"/>
<line x1="35.30" y1="332.90" x2="36.80" y2="332.90" stroke="#444" stroke-width="0.6"/>
<line x1="55.20" y1="347.00" x2="55.20" y2="348.50" stroke="#444" stroke-width="0.6"/>
<line x1="35.30" y1="331.30" x2="36.80" y2="331.30" stroke="#444" stroke-width="0.6"/>
<line x1="56.79" y1="347.00" x2="56.79" y2="348.50" stroke="#444" stroke-width="0.6"/>
<line x1="35.30" y1="329.95" x2="36.80" y2="329.95" stroke="#444" stroke-width="0.6"/>
<line x1="58.16" y1="347.00" x2="58.16" y2="348.50" stroke="#444" stroke-width="0.6"/>
<line x1="35.30" y1="328.78" x2="36.80" y2="328.78" stroke="#444" stroke-width="0.6"/>
<line x1="59.37" y1="347.00" x2="59.37" y2="348.50" stroke="#444" stroke-width="0.6"/>
<line x1="35.30" y1="327.75" x2="36.80" y2="327.75" stroke="#444" stroke-width="0.6"/>
<line x1="60.45" y1="347.00" x2="60.45" y2="348.50" stroke="#444" stroke-width="0.6"/>
<line x1="35.30" y1="326.82" x2="36.80" y2="326.82" stroke="#444" stroke-width="0.6"/>
<line x1="67.57" y1="347.00" x2="67.57" y2="348.50" stroke="#444" stroke-width="0.6"/>
<line x1="35.30" y1="320.75" x2="36.80" y2="320.75" stroke="#444" stroke-width="0.6"/>
<line x1="71.73" y1="347.00" x2="71.73" y2="348.50" stroke="#444" stroke-width="0.6"/>
<line x1="35.30" y1="317.20" x2="36.80" y2="317.20" stroke="#444" stroke-width="0.6"/>
<line x1="74.69" y1="347.00" x2="74.69" y2="348.50" stroke="#444" stroke-width="0.6"/>
<line x1="35.30" y1="314.68" x2="36.80" y2="314.68" stroke="#444" stroke-width="0.6"/>
<line x1="76.98" y1="347.00" x2="76.98" y2="348.50" stroke="#444" stroke-width="0.6"/>
<line x1="35.30" y1="312.72" x2="36.80" y2="312.72" stroke="#444" stroke-width="0.6"/>
<line x1="78.85" y1="347.00" x2="78.85" y2="348.50" stroke="#444" stroke-width="0.6"/>
<line x1="35.30" y1="311.13" x2="36.80" y2="311.13" stroke="#444" stroke-width="0.6"/>
<line x1="80.44" y1="347.00" x2="80.44" y2="348.50" stroke="#444" stroke-width="0.6"/>
<line x1="35.30" y1="309.78" x2="36.80" y2="309.78" stroke="#444" stroke-width="0.6"/>
<line x1="81.81" y1="347.00" x2="81.81" y2="348.50" stroke="#444" stroke-width="0.6"/>
<line x1="35.30" y1="308.61" x2="36.80" y2="308.61" stroke="#444" stroke-width="0.6"/>
<line x1="83.02" y1="347.00" x2="83.02" y2="348.50" stroke="#444" stroke-width="0.6"/>
<line x1="35.30" y1="307.57" x2="36.80" y2="307.57" stroke="#444" stroke-width="0.6"/>
<line x1="84.10" y1="347.00" x2="84.10" y2="348.50" stroke="#444" stroke-width="0.6"/>
<line x1="35.30" y1="306.65" x2="36.80" y2="306.65" stroke="#444" stroke-width="0.6"/>
<line x1="91.22" y1="347.00" x2="91.22" y2="348.50" stroke="#444" stroke-width="0.6"/>
<line x1="35.30" y1="300.58" x2="36.80" y2="300.58" stroke="#444" stroke-width="0.6"/>
<line x1="95.38" y1="347.00" x2="95.38" y2="348.50" stroke="#444" stroke-width="0.6"/>
<line x1="35.30" y1="297.02" x2="36.80" y2="297.02" stroke="#444" stroke-width="0.6"/>
<line x1="98.34" y1="347.00" x2="98.34" y2="348.50" stroke="#444" stroke-width="0.6"/>
<line x1="35.30" y1="294.50" x2="36.80" y2="294.50" stroke="#444" stroke-width="0.6"/>
<line x1="100.63" y1="347.00" x2="100.63" y2="348.50" stroke="#444" stroke-width="0.6"/>
<line x1="35.30" y1="292.55" x2="36.80" y2="292.55" stroke="#444" stroke-width="0.6"/>
<line x1="102.50" y1="347.00" x2="102.50" y2="348.50" stroke="#444" stroke-width="0.6"/>
<line x1="35.30" y1="290.95" x2="36.80" y2="290.95" stroke="#444" stroke-width="0.6"/>
<line x1="104.09" y1="347.00" x2="104.09" y2="348.50" stroke="#444" stroke-width="0.6"/>
<line x1="35.30" y1="289.60" x2="36.80" y2="289.60" stroke="#444" stroke-width="0.6"/>
<line x1="105.46" y1="347.00" x2="105.46" y2="348.50" stroke="#444" stroke-width="0.6"/>
<line x1="35.30" y1="288.43" x2="36.80" y2="288.43" stroke="#444" stroke-width="0.6"/>
<line x1="106.67" y1="347.00" x2="106.67" y2="348.50" stroke="#444" stroke-width="0.6"/>
<line x1="35.30" y1="287.40" x2="36.80" y2="287.40" stroke="#444" stroke-width="0.6"/>
<line x1="107.75" y1="347.00" x2="107.75" y2="348.50" stroke="#444" stroke-width="0.6"/>
<line x1="35.30" y1="286.48" x2="36.80" y2="286.48" stroke="#444" stroke-width="0.6"/>
<line x1="114.87" y1="347.00" x2="114.87" y2="348.50" stroke="#444" stroke-width="0.6"/>
<line x1="35.30" y1="280.40" x2="36.80" y2="280.40" stroke="#444" stroke-width="0.6"/>
<line x1="119.03" y1="347.00" x2="119.03" y2="348.50" stroke="#444" stroke-width="0.6"/>
<line x1="35.30" y1="276.85" x2="36.80" y2="276.85" stroke="#444" stroke-width="0.6"/>
<line x1="121.99" y1="347.00" x2="121.99" y2="348.50" stroke="#444" stroke-width="0.6"/>
<line x1="35.30" y1="274.33" x2="36.80" y2="274.33" stroke="#444" stroke-width="0.6"/>
<line x1="124.28" y1="347.00" x2="124.28" y2="348.50" stroke="#444" stroke-width="0.6"/>
<line x1="35.30" y1="272.37" x2="36.80" y2="272.37" stroke="#444" stroke-width="0.6"/>
<line x1="126.15" y1="347.00" x2="126.15" y2="348.50" stroke="#444" stroke-width="0.6"/>
<line x1="35.30" y1="270.78" x2="36.80" y2="270.78" stroke="#444" stroke-width="0.6"/>
<line x1="127.74" y1="347.00" x2="127.74" y2="348.50" stroke="#444" stroke-width="0.6"/>
<line x1="35.30" y1="269.43" x2="36.80" y2="269.43" stroke="#444" stroke-width="0.6"/>
<line x1="129.11" y1="347.00" x2="129.11" y2="348.50" stroke="#444" stroke-width="0.6"/>
<line x1="35.30" y1="268.26" x2="36.80" y2="268.26" stroke="#444" stroke-width="0.6"/>
<line x1="130.32" y1="347.00" x2="130.32" y2="348.50" stroke="#444" stroke-width="0.6"/>
<line x1="35.30" y1="267.22" x2="36.80" y2="267.22" stroke="#444" stroke-width="0.6"/>
<text x="33.80" y="355.40" font-size="5.2" fill="#222">10</text>
<text x="39.20" y="352.00" font-size="4.4" fill="#222">0</text>
<g transform="translate(35.40,347.00) rotate(-90)"><text x="-3.0" y="0" font-size="5.2" fill="#222">10</text><text x="2.4" y="-3.4" font-size="4.4" fill="#222">0</text></g>
<text x="57.45" y="355.40" font-size="5.2" fill="#222">10</text>
<text x="62.85" y="352.00" font-size="4.4" fill="#222">1</text>
<g transform="translate(35.40,326.82) rotate(-90)"><text x="-3.0" y="0" font-size="5.2" fill="#222">10</text><text x="2.4" y="-3.4" font-size="4.4" fill="#222">1</text></g>
<text x="81.10" y="355.40" font-size="5.2" fill="#222">10</text>
<text x="86.50" y="352.00" font-size="4.4" fill="#222">2</text>
<g transform="translate(35.40,306.65) rotate(-90)"><text x="-3.0" y="0" font-size="5.2" fill="#222">10</text><text x="2.4" y="-3.4" font-size="4.4" fill="#222">2</text></g>
<text x="104.75" y="355.40" font-size="5.2" fill="#222">10</text>
<text x="110.15" y="352.00" font-size="4.4" fill="#222">3</text>
<g transform="translate(35.40,286.48) rotate(-90)"><text x="-3.0" y="0" font-size="5.2" fill="#222">10</text><text x="2.4" y="-3.4" font-size="4.4" fill="#222">3</text></g>
<text x="128.40" y="355.40" font-size="5.2" fill="#222">10</text>
<text x="133.80" y="352.00" font-size="4.4" fill="#222">4</text>
<g transform="translate(35.40,266.30) rotate(-90)"><text x="-3.0" y="0" font-size="5.2" fill="#222">10</text><text x="2.4" y="-3.4" font-size="4.4" fill="#222">4</text></g>
<text transform="translate(27.0,306.3) rotate(-90)" font-size="7.2" text-anchor="middle" fill="#222">CXCR4 PE</text>
<text x="83.70" y="368.60" font-size="7.1" text-anchor="middle" font-weight="normal" fill="#222"  stroke="#222" stroke-width="0.2">CD23 FITC</text>
<line x1="48.30" y1="338.20" x2="48.30" y2="369.50" stroke="#111" stroke-width="1.9"/>
<path d="M42.9 366.7 L48.3 369.3 L53.8 366.7 L48.3 380.5 Z" fill="#111"/>
<line x1="106.20" y1="339.50" x2="160.50" y2="374.50" stroke="#111" stroke-width="2.0"/>
<path d="M156.6 378.6 L160.6 374.6 L162.3 369.0 L170.6 380.8 Z" fill="#111"/>
<text x="142.30" y="395.30" font-size="9.7" text-anchor="middle" font-weight="normal" fill="#222"  stroke="#222" stroke-width="0.12">Surface</text>
<text x="142.30" y="498.40" font-size="9.7" text-anchor="middle" font-weight="normal" fill="#222"  stroke="#222" stroke-width="0.12">Intracellular</text>
<line x1="36.40" y1="403.40" x2="132.00" y2="403.40" stroke="#999" stroke-width="1.1"/>
<line x1="132.00" y1="403.40" x2="132.00" y2="476.00" stroke="#999" stroke-width="1.1"/>
<line x1="36.40" y1="476.00" x2="132.00" y2="476.00" stroke="#222" stroke-width="1.1"/>
<line x1="36.40" y1="402.90" x2="36.40" y2="476.50" stroke="#222" stroke-width="1.2"/>
<line x1="35.00" y1="476.00" x2="36.40" y2="476.00" stroke="#333" stroke-width="0.7"/>
<line x1="35.00" y1="473.10" x2="36.40" y2="473.10" stroke="#333" stroke-width="0.7"/>
<line x1="35.00" y1="470.19" x2="36.40" y2="470.19" stroke="#333" stroke-width="0.7"/>
<line x1="35.00" y1="467.29" x2="36.40" y2="467.29" stroke="#333" stroke-width="0.7"/>
<line x1="35.00" y1="464.38" x2="36.40" y2="464.38" stroke="#333" stroke-width="0.7"/>
<line x1="35.00" y1="461.48" x2="36.40" y2="461.48" stroke="#333" stroke-width="0.7"/>
<line x1="35.00" y1="458.58" x2="36.40" y2="458.58" stroke="#333" stroke-width="0.7"/>
<line x1="35.00" y1="455.67" x2="36.40" y2="455.67" stroke="#333" stroke-width="0.7"/>
<line x1="35.00" y1="452.77" x2="36.40" y2="452.77" stroke="#333" stroke-width="0.7"/>
<line x1="35.00" y1="449.86" x2="36.40" y2="449.86" stroke="#333" stroke-width="0.7"/>
<line x1="35.00" y1="446.96" x2="36.40" y2="446.96" stroke="#333" stroke-width="0.7"/>
<line x1="35.00" y1="444.06" x2="36.40" y2="444.06" stroke="#333" stroke-width="0.7"/>
<line x1="35.00" y1="441.15" x2="36.40" y2="441.15" stroke="#333" stroke-width="0.7"/>
<line x1="35.00" y1="438.25" x2="36.40" y2="438.25" stroke="#333" stroke-width="0.7"/>
<line x1="35.00" y1="435.34" x2="36.40" y2="435.34" stroke="#333" stroke-width="0.7"/>
<line x1="35.00" y1="432.44" x2="36.40" y2="432.44" stroke="#333" stroke-width="0.7"/>
<line x1="35.00" y1="429.54" x2="36.40" y2="429.54" stroke="#333" stroke-width="0.7"/>
<line x1="35.00" y1="426.63" x2="36.40" y2="426.63" stroke="#333" stroke-width="0.7"/>
<line x1="35.00" y1="423.73" x2="36.40" y2="423.73" stroke="#333" stroke-width="0.7"/>
<line x1="35.00" y1="420.82" x2="36.40" y2="420.82" stroke="#333" stroke-width="0.7"/>
<line x1="35.00" y1="417.92" x2="36.40" y2="417.92" stroke="#333" stroke-width="0.7"/>
<line x1="35.00" y1="415.02" x2="36.40" y2="415.02" stroke="#333" stroke-width="0.7"/>
<line x1="35.00" y1="412.11" x2="36.40" y2="412.11" stroke="#333" stroke-width="0.7"/>
<line x1="35.00" y1="409.21" x2="36.40" y2="409.21" stroke="#333" stroke-width="0.7"/>
<line x1="35.00" y1="406.30" x2="36.40" y2="406.30" stroke="#333" stroke-width="0.7"/>
<line x1="35.00" y1="403.40" x2="36.40" y2="403.40" stroke="#333" stroke-width="0.7"/>
<line x1="34.20" y1="476.00" x2="36.40" y2="476.00" stroke="#333" stroke-width="0.8"/>
<text transform="translate(33.30,474.70) rotate(-90) scale(1.45,1)" font-size="4.5" text-anchor="middle" fill="#111" stroke="#111" stroke-width="0.25">0</text>
<line x1="34.20" y1="461.48" x2="36.40" y2="461.48" stroke="#333" stroke-width="0.8"/>
<text transform="translate(33.30,460.18) rotate(-90) scale(1.45,1)" font-size="4.5" text-anchor="middle" fill="#111" stroke="#111" stroke-width="0.25">20</text>
<line x1="34.20" y1="446.96" x2="36.40" y2="446.96" stroke="#333" stroke-width="0.8"/>
<text transform="translate(33.30,445.66) rotate(-90) scale(1.45,1)" font-size="4.5" text-anchor="middle" fill="#111" stroke="#111" stroke-width="0.25">40</text>
<line x1="34.20" y1="432.44" x2="36.40" y2="432.44" stroke="#333" stroke-width="0.8"/>
<text transform="translate(33.30,431.14) rotate(-90) scale(1.45,1)" font-size="4.5" text-anchor="middle" fill="#111" stroke="#111" stroke-width="0.25">60</text>
<line x1="34.20" y1="417.92" x2="36.40" y2="417.92" stroke="#333" stroke-width="0.8"/>
<text transform="translate(33.30,416.62) rotate(-90) scale(1.45,1)" font-size="4.5" text-anchor="middle" fill="#111" stroke="#111" stroke-width="0.25">80</text>
<line x1="34.20" y1="403.40" x2="36.40" y2="403.40" stroke="#333" stroke-width="0.8"/>
<text transform="translate(33.30,402.10) rotate(-90) scale(1.45,1)" font-size="4.5" text-anchor="middle" fill="#111" stroke="#111" stroke-width="0.25">100</text>
<text transform="translate(25.50,443.10) rotate(-90)" font-size="6.7" text-anchor="middle" fill="#111" stroke="#111" stroke-width="0.15">counts</text>
<line x1="36.40" y1="476.00" x2="36.40" y2="477.40" stroke="#333" stroke-width="0.7"/>
<line x1="40.22" y1="476.00" x2="40.22" y2="477.40" stroke="#333" stroke-width="0.7"/>
<line x1="44.05" y1="476.00" x2="44.05" y2="477.40" stroke="#333" stroke-width="0.7"/>
<line x1="47.87" y1="476.00" x2="47.87" y2="477.40" stroke="#333" stroke-width="0.7"/>
<line x1="51.70" y1="476.00" x2="51.70" y2="477.40" stroke="#333" stroke-width="0.7"/>
<line x1="55.52" y1="476.00" x2="55.52" y2="477.40" stroke="#333" stroke-width="0.7"/>
<line x1="59.34" y1="476.00" x2="59.34" y2="477.40" stroke="#333" stroke-width="0.7"/>
<line x1="63.17" y1="476.00" x2="63.17" y2="477.40" stroke="#333" stroke-width="0.7"/>
<line x1="66.99" y1="476.00" x2="66.99" y2="477.40" stroke="#333" stroke-width="0.7"/>
<line x1="70.82" y1="476.00" x2="70.82" y2="477.40" stroke="#333" stroke-width="0.7"/>
<line x1="74.64" y1="476.00" x2="74.64" y2="477.40" stroke="#333" stroke-width="0.7"/>
<line x1="78.46" y1="476.00" x2="78.46" y2="477.40" stroke="#333" stroke-width="0.7"/>
<line x1="82.29" y1="476.00" x2="82.29" y2="477.40" stroke="#333" stroke-width="0.7"/>
<line x1="86.11" y1="476.00" x2="86.11" y2="477.40" stroke="#333" stroke-width="0.7"/>
<line x1="89.94" y1="476.00" x2="89.94" y2="477.40" stroke="#333" stroke-width="0.7"/>
<line x1="93.76" y1="476.00" x2="93.76" y2="477.40" stroke="#333" stroke-width="0.7"/>
<line x1="97.58" y1="476.00" x2="97.58" y2="477.40" stroke="#333" stroke-width="0.7"/>
<line x1="101.41" y1="476.00" x2="101.41" y2="477.40" stroke="#333" stroke-width="0.7"/>
<line x1="105.23" y1="476.00" x2="105.23" y2="477.40" stroke="#333" stroke-width="0.7"/>
<line x1="109.06" y1="476.00" x2="109.06" y2="477.40" stroke="#333" stroke-width="0.7"/>
<line x1="112.88" y1="476.00" x2="112.88" y2="477.40" stroke="#333" stroke-width="0.7"/>
<line x1="116.70" y1="476.00" x2="116.70" y2="477.40" stroke="#333" stroke-width="0.7"/>
<line x1="120.53" y1="476.00" x2="120.53" y2="477.40" stroke="#333" stroke-width="0.7"/>
<line x1="124.35" y1="476.00" x2="124.35" y2="477.40" stroke="#333" stroke-width="0.7"/>
<line x1="128.18" y1="476.00" x2="128.18" y2="477.40" stroke="#333" stroke-width="0.7"/>
<line x1="132.00" y1="476.00" x2="132.00" y2="477.40" stroke="#333" stroke-width="0.7"/>
<line x1="36.40" y1="476.00" x2="36.40" y2="478.00" stroke="#333" stroke-width="0.8"/>
<text transform="translate(36.40,483.20) scale(1.45,1)" font-size="4.5" text-anchor="middle" fill="#111" stroke="#111" stroke-width="0.25">0</text>
<line x1="55.52" y1="476.00" x2="55.52" y2="478.00" stroke="#333" stroke-width="0.8"/>
<text transform="translate(55.52,483.20) scale(1.45,1)" font-size="4.5" text-anchor="middle" fill="#111" stroke="#111" stroke-width="0.25">200</text>
<line x1="74.64" y1="476.00" x2="74.64" y2="478.00" stroke="#333" stroke-width="0.8"/>
<text transform="translate(74.64,483.20) scale(1.45,1)" font-size="4.5" text-anchor="middle" fill="#111" stroke="#111" stroke-width="0.25">400</text>
<line x1="93.76" y1="476.00" x2="93.76" y2="478.00" stroke="#333" stroke-width="0.8"/>
<text transform="translate(93.76,483.20) scale(1.45,1)" font-size="4.5" text-anchor="middle" fill="#111" stroke="#111" stroke-width="0.25">600</text>
<line x1="112.88" y1="476.00" x2="112.88" y2="478.00" stroke="#333" stroke-width="0.8"/>
<text transform="translate(112.88,483.20) scale(1.45,1)" font-size="4.5" text-anchor="middle" fill="#111" stroke="#111" stroke-width="0.25">800</text>
<line x1="132.00" y1="476.00" x2="132.00" y2="478.00" stroke="#333" stroke-width="0.8"/>
<text transform="translate(132.00,483.20) scale(1.45,1)" font-size="4.5" text-anchor="middle" fill="#111" stroke="#111" stroke-width="0.25">1000</text>
<path d="M36.60 475.80 L36.90 473.47 L37.88 472.04 L39.20 467.78 L40.20 465.60 L41.30 464.71 L42.30 463.81 L43.50 456.56 L44.60 448.00 L45.75 443.15 L46.90 440.75 L48.05 442.88 L49.20 442.34 L50.35 442.19 L51.50 443.42 L52.64 446.24 L53.80 447.22 L55.00 451.51 L56.20 455.07 L57.36 460.19 L58.50 460.77 L59.61 464.84 L60.80 465.13 L61.69 468.59 L62.65 469.26 L63.80 469.89 L64.58 470.95 L65.41 472.20 L66.32 471.85 L67.34 473.21 L68.50 473.92 L69.29 474.22 L70.11 474.44 L70.97 473.19 L71.87 474.24 L72.84 474.01 L73.88 474.92 L75.00 474.76 L76.20 474.99 L77.01 475.17 L77.90 474.92 L78.84 475.23 L79.84 475.07 L80.86 475.94 L81.90 475.31 L82.95 475.50 L83.98 475.15 L84.99 475.30 L85.96 475.50 L86.88 475.86 L87.73 475.89 L88.50 475.85 L89.79 475.79 L90.97 476.00 L92.03 475.87 L92.97 475.91 L93.79 476.00 L94.46 475.95 L95.00 476.00 L95.00 476.00 L36.60 476.00 Z" fill="#737373" stroke="#3a3a3a" stroke-width="0.7" stroke-linejoin="round"/>
<path d="M36.90 470.30 L37.70 469.92 L38.85 468.24 L40.00 470.15 L41.06 465.66 L42.13 463.28 L43.10 461.34 L44.30 456.19 L45.40 451.92 L46.55 450.28 L47.70 446.25 L48.85 448.55 L50.00 448.15 L51.15 447.19 L52.30 449.46 L53.45 450.73 L54.60 449.26 L55.75 452.77 L56.90 452.56 L58.09 452.82 L59.20 448.62 L60.80 452.65 L61.86 455.87 L63.10 457.92 L64.08 456.32 L65.14 460.25 L66.20 457.68 L67.23 459.88 L68.26 457.43 L69.20 457.14 L70.34 457.48 L71.50 459.84 L72.50 461.74 L73.60 455.56 L74.60 457.59 L75.70 459.32 L76.90 460.32 L77.75 463.34 L78.71 464.76 L79.74 464.00 L80.80 464.86 L81.65 467.31 L82.52 467.31 L83.42 469.64 L84.37 468.83 L85.40 468.26 L86.19 469.73 L87.03 469.47 L87.90 471.48 L88.80 472.00 L89.71 471.82 L90.61 472.06 L91.50 473.49 L92.35 473.15 L93.18 474.22 L93.99 473.41 L94.83 473.94 L95.71 474.01 L96.66 474.00 L97.70 475.62 L98.37 475.33 L98.99 474.65 L99.59 475.24 L100.20 474.57 L100.84 475.58 L101.54 475.62 L102.33 475.38 L103.24 475.48 L104.28 475.69 L105.49 475.81 L106.90 475.75 L107.48 475.71 L108.12 475.81 L108.82 475.81 L109.55 475.97 L110.33 475.90 L111.15 475.93 L112.00 475.77 L112.89 475.90 L113.79 475.91 L114.72 475.91 L115.67 475.95 L116.62 475.94 L117.59 475.88 L118.56 476.00 L119.53 476.00 L120.49 475.95 L121.44 476.00 L122.38 475.94 L123.30 475.93 L124.20 475.98 L125.07 476.00 L125.91 475.98 L126.72 475.94 L127.48 476.00 L128.21 475.97 L128.88 475.97 L129.50 476.00 L130.06 475.95 L130.56 475.97 L131.00 476.00" fill="none" stroke="#111" stroke-width="1.8" stroke-linejoin="round"/>
<line x1="36.90" y1="416.00" x2="36.90" y2="476.00" stroke="#111" stroke-width="1.6"/>
<line x1="59.30" y1="443.00" x2="132.00" y2="443.00" stroke="#555" stroke-width="1.0"/>
<line x1="59.30" y1="438.90" x2="59.30" y2="447.00" stroke="#777" stroke-width="0.9"/>
<text x="76.00" y="418.20" font-size="6.4" text-anchor="middle" font-weight="normal" fill="#222"  stroke="#222" stroke-width="0.2">45%</text>
<text x="113.00" y="418.20" font-size="6.4" text-anchor="middle" font-weight="normal" fill="#222"  stroke="#222" stroke-width="0.2">MFI=74</text>
<line x1="155.30" y1="403.10" x2="249.50" y2="403.10" stroke="#999" stroke-width="1.1"/>
<line x1="249.50" y1="403.10" x2="249.50" y2="475.30" stroke="#999" stroke-width="1.1"/>
<line x1="155.30" y1="475.30" x2="249.50" y2="475.30" stroke="#222" stroke-width="1.1"/>
<line x1="155.30" y1="402.60" x2="155.30" y2="475.80" stroke="#222" stroke-width="1.2"/>
<line x1="153.90" y1="475.30" x2="155.30" y2="475.30" stroke="#333" stroke-width="0.7"/>
<line x1="153.90" y1="472.41" x2="155.30" y2="472.41" stroke="#333" stroke-width="0.7"/>
<line x1="153.90" y1="469.52" x2="155.30" y2="469.52" stroke="#333" stroke-width="0.7"/>
<line x1="153.90" y1="466.64" x2="155.30" y2="466.64" stroke="#333" stroke-width="0.7"/>
<line x1="153.90" y1="463.75" x2="155.30" y2="463.75" stroke="#333" stroke-width="0.7"/>
<line x1="153.90" y1="460.86" x2="155.30" y2="460.86" stroke="#333" stroke-width="0.7"/>
<line x1="153.90" y1="457.97" x2="155.30" y2="457.97" stroke="#333" stroke-width="0.7"/>
<line x1="153.90" y1="455.08" x2="155.30" y2="455.08" stroke="#333" stroke-width="0.7"/>
<line x1="153.90" y1="452.20" x2="155.30" y2="452.20" stroke="#333" stroke-width="0.7"/>
<line x1="153.90" y1="449.31" x2="155.30" y2="449.31" stroke="#333" stroke-width="0.7"/>
<line x1="153.90" y1="446.42" x2="155.30" y2="446.42" stroke="#333" stroke-width="0.7"/>
<line x1="153.90" y1="443.53" x2="155.30" y2="443.53" stroke="#333" stroke-width="0.7"/>
<line x1="153.90" y1="440.64" x2="155.30" y2="440.64" stroke="#333" stroke-width="0.7"/>
<line x1="153.90" y1="437.76" x2="155.30" y2="437.76" stroke="#333" stroke-width="0.7"/>
<line x1="153.90" y1="434.87" x2="155.30" y2="434.87" stroke="#333" stroke-width="0.7"/>
<line x1="153.90" y1="431.98" x2="155.30" y2="431.98" stroke="#333" stroke-width="0.7"/>
<line x1="153.90" y1="429.09" x2="155.30" y2="429.09" stroke="#333" stroke-width="0.7"/>
<line x1="153.90" y1="426.20" x2="155.30" y2="426.20" stroke="#333" stroke-width="0.7"/>
<line x1="153.90" y1="423.32" x2="155.30" y2="423.32" stroke="#333" stroke-width="0.7"/>
<line x1="153.90" y1="420.43" x2="155.30" y2="420.43" stroke="#333" stroke-width="0.7"/>
<line x1="153.90" y1="417.54" x2="155.30" y2="417.54" stroke="#333" stroke-width="0.7"/>
<line x1="153.90" y1="414.65" x2="155.30" y2="414.65" stroke="#333" stroke-width="0.7"/>
<line x1="153.90" y1="411.76" x2="155.30" y2="411.76" stroke="#333" stroke-width="0.7"/>
<line x1="153.90" y1="408.88" x2="155.30" y2="408.88" stroke="#333" stroke-width="0.7"/>
<line x1="153.90" y1="405.99" x2="155.30" y2="405.99" stroke="#333" stroke-width="0.7"/>
<line x1="153.90" y1="403.10" x2="155.30" y2="403.10" stroke="#333" stroke-width="0.7"/>
<line x1="153.10" y1="475.30" x2="155.30" y2="475.30" stroke="#333" stroke-width="0.8"/>
<text transform="translate(152.20,474.00) rotate(-90) scale(1.45,1)" font-size="4.5" text-anchor="middle" fill="#111" stroke="#111" stroke-width="0.25">0</text>
<line x1="153.10" y1="460.86" x2="155.30" y2="460.86" stroke="#333" stroke-width="0.8"/>
<text transform="translate(152.20,459.56) rotate(-90) scale(1.45,1)" font-size="4.5" text-anchor="middle" fill="#111" stroke="#111" stroke-width="0.25">20</text>
<line x1="153.10" y1="446.42" x2="155.30" y2="446.42" stroke="#333" stroke-width="0.8"/>
<text transform="translate(152.20,445.12) rotate(-90) scale(1.45,1)" font-size="4.5" text-anchor="middle" fill="#111" stroke="#111" stroke-width="0.25">40</text>
<line x1="153.10" y1="431.98" x2="155.30" y2="431.98" stroke="#333" stroke-width="0.8"/>
<text transform="translate(152.20,430.68) rotate(-90) scale(1.45,1)" font-size="4.5" text-anchor="middle" fill="#111" stroke="#111" stroke-width="0.25">60</text>
<line x1="153.10" y1="417.54" x2="155.30" y2="417.54" stroke="#333" stroke-width="0.8"/>
<text transform="translate(152.20,416.24) rotate(-90) scale(1.45,1)" font-size="4.5" text-anchor="middle" fill="#111" stroke="#111" stroke-width="0.25">80</text>
<line x1="153.10" y1="403.10" x2="155.30" y2="403.10" stroke="#333" stroke-width="0.8"/>
<text transform="translate(152.20,401.80) rotate(-90) scale(1.45,1)" font-size="4.5" text-anchor="middle" fill="#111" stroke="#111" stroke-width="0.25">100</text>
<text transform="translate(144.40,442.60) rotate(-90)" font-size="6.7" text-anchor="middle" fill="#111" stroke="#111" stroke-width="0.15">counts</text>
<line x1="155.30" y1="475.30" x2="155.30" y2="476.70" stroke="#333" stroke-width="0.7"/>
<line x1="159.07" y1="475.30" x2="159.07" y2="476.70" stroke="#333" stroke-width="0.7"/>
<line x1="162.84" y1="475.30" x2="162.84" y2="476.70" stroke="#333" stroke-width="0.7"/>
<line x1="166.60" y1="475.30" x2="166.60" y2="476.70" stroke="#333" stroke-width="0.7"/>
<line x1="170.37" y1="475.30" x2="170.37" y2="476.70" stroke="#333" stroke-width="0.7"/>
<line x1="174.14" y1="475.30" x2="174.14" y2="476.70" stroke="#333" stroke-width="0.7"/>
<line x1="177.91" y1="475.30" x2="177.91" y2="476.70" stroke="#333" stroke-width="0.7"/>
<line x1="181.68" y1="475.30" x2="181.68" y2="476.70" stroke="#333" stroke-width="0.7"/>
<line x1="185.44" y1="475.30" x2="185.44" y2="476.70" stroke="#333" stroke-width="0.7"/>
<line x1="189.21" y1="475.30" x2="189.21" y2="476.70" stroke="#333" stroke-width="0.7"/>
<line x1="192.98" y1="475.30" x2="192.98" y2="476.70" stroke="#333" stroke-width="0.7"/>
<line x1="196.75" y1="475.30" x2="196.75" y2="476.70" stroke="#333" stroke-width="0.7"/>
<line x1="200.52" y1="475.30" x2="200.52" y2="476.70" stroke="#333" stroke-width="0.7"/>
<line x1="204.28" y1="475.30" x2="204.28" y2="476.70" stroke="#333" stroke-width="0.7"/>
<line x1="208.05" y1="475.30" x2="208.05" y2="476.70" stroke="#333" stroke-width="0.7"/>
<line x1="211.82" y1="475.30" x2="211.82" y2="476.70" stroke="#333" stroke-width="0.7"/>
<line x1="215.59" y1="475.30" x2="215.59" y2="476.70" stroke="#333" stroke-width="0.7"/>
<line x1="219.36" y1="475.30" x2="219.36" y2="476.70" stroke="#333" stroke-width="0.7"/>
<line x1="223.12" y1="475.30" x2="223.12" y2="476.70" stroke="#333" stroke-width="0.7"/>
<line x1="226.89" y1="475.30" x2="226.89" y2="476.70" stroke="#333" stroke-width="0.7"/>
<line x1="230.66" y1="475.30" x2="230.66" y2="476.70" stroke="#333" stroke-width="0.7"/>
<line x1="234.43" y1="475.30" x2="234.43" y2="476.70" stroke="#333" stroke-width="0.7"/>
<line x1="238.20" y1="475.30" x2="238.20" y2="476.70" stroke="#333" stroke-width="0.7"/>
<line x1="241.96" y1="475.30" x2="241.96" y2="476.70" stroke="#333" stroke-width="0.7"/>
<line x1="245.73" y1="475.30" x2="245.73" y2="476.70" stroke="#333" stroke-width="0.7"/>
<line x1="249.50" y1="475.30" x2="249.50" y2="476.70" stroke="#333" stroke-width="0.7"/>
<line x1="155.30" y1="475.30" x2="155.30" y2="477.30" stroke="#333" stroke-width="0.8"/>
<text transform="translate(155.30,482.50) scale(1.45,1)" font-size="4.5" text-anchor="middle" fill="#111" stroke="#111" stroke-width="0.25">0</text>
<line x1="174.14" y1="475.30" x2="174.14" y2="477.30" stroke="#333" stroke-width="0.8"/>
<text transform="translate(174.14,482.50) scale(1.45,1)" font-size="4.5" text-anchor="middle" fill="#111" stroke="#111" stroke-width="0.25">200</text>
<line x1="192.98" y1="475.30" x2="192.98" y2="477.30" stroke="#333" stroke-width="0.8"/>
<text transform="translate(192.98,482.50) scale(1.45,1)" font-size="4.5" text-anchor="middle" fill="#111" stroke="#111" stroke-width="0.25">400</text>
<line x1="211.82" y1="475.30" x2="211.82" y2="477.30" stroke="#333" stroke-width="0.8"/>
<text transform="translate(211.82,482.50) scale(1.45,1)" font-size="4.5" text-anchor="middle" fill="#111" stroke="#111" stroke-width="0.25">600</text>
<line x1="230.66" y1="475.30" x2="230.66" y2="477.30" stroke="#333" stroke-width="0.8"/>
<text transform="translate(230.66,482.50) scale(1.45,1)" font-size="4.5" text-anchor="middle" fill="#111" stroke="#111" stroke-width="0.25">800</text>
<line x1="249.50" y1="475.30" x2="249.50" y2="477.30" stroke="#333" stroke-width="0.8"/>
<text transform="translate(249.50,482.50) scale(1.45,1)" font-size="4.5" text-anchor="middle" fill="#111" stroke="#111" stroke-width="0.25">1000</text>
<path d="M155.30 466.00 L156.24 467.24 L157.50 461.64 L158.73 461.19 L160.00 458.13 L161.25 455.55 L162.50 454.61 L163.72 453.35 L165.00 452.84 L165.98 452.91 L167.02 453.30 L168.00 451.34 L169.31 452.24 L170.50 450.74 L171.53 450.24 L172.50 450.05 L173.47 449.06 L174.50 448.73 L175.69 452.79 L177.00 454.66 L177.96 457.00 L178.98 458.75 L180.00 458.21 L181.00 460.45 L182.00 461.33 L183.00 465.10 L183.96 464.90 L184.93 466.14 L186.00 466.03 L186.91 466.39 L187.88 467.72 L188.91 468.77 L190.00 469.83 L190.90 468.66 L191.83 470.55 L192.81 470.05 L193.86 470.70 L195.00 471.23 L195.84 471.45 L196.66 472.28 L197.50 472.79 L198.42 472.72 L199.45 472.49 L200.63 473.25 L202.00 473.45 L202.72 473.78 L203.50 473.60 L204.32 472.86 L205.18 473.36 L206.08 473.63 L207.01 474.27 L207.97 473.95 L208.94 474.44 L209.92 474.30 L210.92 473.87 L211.91 474.39 L212.91 474.63 L213.89 474.66 L214.85 474.19 L215.80 474.79 L216.76 474.60 L217.78 474.31 L218.84 474.74 L219.93 474.51 L221.03 474.72 L222.13 475.27 L223.22 475.30 L224.29 475.26 L225.32 475.19 L226.30 475.30 L227.22 475.23 L228.06 475.14 L228.81 475.07 L229.46 475.30 L230.00 475.30 L230.00 475.30 L155.30 475.30 Z" fill="#737373" stroke="#3a3a3a" stroke-width="0.7" stroke-linejoin="round"/>
<path d="M155.30 465.00 L156.04 464.28 L157.09 462.42 L158.10 465.01 L158.98 465.67 L159.81 461.02 L160.50 460.70 L161.60 458.81 L162.74 453.33 L163.90 449.43 L165.20 455.76 L166.20 453.12 L167.06 449.83 L168.00 448.24 L169.60 451.58 L170.55 452.10 L171.50 451.95 L173.10 445.68 L174.25 448.56 L175.40 448.89 L177.00 449.40 L177.95 451.24 L178.90 457.22 L180.50 458.87 L181.28 458.98 L182.30 459.39 L183.03 459.40 L183.88 460.71 L184.81 463.20 L185.80 462.55 L186.61 464.03 L187.45 466.74 L188.33 464.41 L189.31 465.61 L190.40 468.68 L191.16 467.71 L191.98 467.87 L192.85 467.30 L193.76 467.12 L194.68 469.66 L195.60 466.80 L196.51 469.59 L197.40 469.06 L198.24 469.70 L199.02 468.47 L199.79 470.94 L200.57 470.96 L201.38 470.97 L202.25 471.30 L203.22 470.36 L204.30 471.61 L204.98 471.95 L205.70 471.75 L206.46 470.06 L207.25 472.04 L208.06 472.32 L208.90 471.80 L209.76 472.61 L210.62 473.41 L211.50 472.83 L212.37 473.67 L213.25 472.89 L214.11 472.94 L214.96 473.51 L215.80 473.11 L216.63 472.87 L217.45 473.82 L218.28 473.75 L219.11 474.06 L219.94 473.54 L220.77 473.77 L221.60 474.17 L222.43 473.85 L223.26 474.00 L224.09 474.20 L224.92 473.90 L225.75 474.29 L226.57 473.76 L227.40 474.46 L228.23 475.21 L229.07 474.60 L229.91 474.33 L230.76 474.02 L231.60 474.21 L232.45 474.51 L233.29 474.43 L234.13 474.81 L234.96 474.76 L235.78 474.95 L236.58 474.75 L237.37 475.01 L238.15 475.16 L238.90 474.71 L239.86 474.91 L240.85 474.94 L241.85 474.97 L242.84 475.21 L243.80 474.97 L244.73 474.90 L245.60 474.84 L246.39 474.84 L247.10 475.07 L247.71 475.22 L248.20 475.10" fill="none" stroke="#111" stroke-width="1.8" stroke-linejoin="round"/>
<line x1="155.80" y1="403.60" x2="155.80" y2="475.30" stroke="#111" stroke-width="2.0"/>
<line x1="177.30" y1="442.30" x2="249.50" y2="442.30" stroke="#555" stroke-width="1.0"/>
<line x1="177.30" y1="438.30" x2="177.30" y2="446.30" stroke="#777" stroke-width="0.9"/>
<line x1="36.60" y1="507.00" x2="132.50" y2="507.00" stroke="#999" stroke-width="1.1"/>
<line x1="132.50" y1="507.00" x2="132.50" y2="579.70" stroke="#999" stroke-width="1.1"/>
<line x1="36.60" y1="579.70" x2="132.50" y2="579.70" stroke="#222" stroke-width="1.1"/>
<line x1="36.60" y1="506.50" x2="36.60" y2="580.20" stroke="#222" stroke-width="1.2"/>
<line x1="35.20" y1="579.70" x2="36.60" y2="579.70" stroke="#333" stroke-width="0.7"/>
<line x1="35.20" y1="576.79" x2="36.60" y2="576.79" stroke="#333" stroke-width="0.7"/>
<line x1="35.20" y1="573.88" x2="36.60" y2="573.88" stroke="#333" stroke-width="0.7"/>
<line x1="35.20" y1="570.98" x2="36.60" y2="570.98" stroke="#333" stroke-width="0.7"/>
<line x1="35.20" y1="568.07" x2="36.60" y2="568.07" stroke="#333" stroke-width="0.7"/>
<line x1="35.20" y1="565.16" x2="36.60" y2="565.16" stroke="#333" stroke-width="0.7"/>
<line x1="35.20" y1="562.25" x2="36.60" y2="562.25" stroke="#333" stroke-width="0.7"/>
<line x1="35.20" y1="559.34" x2="36.60" y2="559.34" stroke="#333" stroke-width="0.7"/>
<line x1="35.20" y1="556.44" x2="36.60" y2="556.44" stroke="#333" stroke-width="0.7"/>
<line x1="35.20" y1="553.53" x2="36.60" y2="553.53" stroke="#333" stroke-width="0.7"/>
<line x1="35.20" y1="550.62" x2="36.60" y2="550.62" stroke="#333" stroke-width="0.7"/>
<line x1="35.20" y1="547.71" x2="36.60" y2="547.71" stroke="#333" stroke-width="0.7"/>
<line x1="35.20" y1="544.80" x2="36.60" y2="544.80" stroke="#333" stroke-width="0.7"/>
<line x1="35.20" y1="541.90" x2="36.60" y2="541.90" stroke="#333" stroke-width="0.7"/>
<line x1="35.20" y1="538.99" x2="36.60" y2="538.99" stroke="#333" stroke-width="0.7"/>
<line x1="35.20" y1="536.08" x2="36.60" y2="536.08" stroke="#333" stroke-width="0.7"/>
<line x1="35.20" y1="533.17" x2="36.60" y2="533.17" stroke="#333" stroke-width="0.7"/>
<line x1="35.20" y1="530.26" x2="36.60" y2="530.26" stroke="#333" stroke-width="0.7"/>
<line x1="35.20" y1="527.36" x2="36.60" y2="527.36" stroke="#333" stroke-width="0.7"/>
<line x1="35.20" y1="524.45" x2="36.60" y2="524.45" stroke="#333" stroke-width="0.7"/>
<line x1="35.20" y1="521.54" x2="36.60" y2="521.54" stroke="#333" stroke-width="0.7"/>
<line x1="35.20" y1="518.63" x2="36.60" y2="518.63" stroke="#333" stroke-width="0.7"/>
<line x1="35.20" y1="515.72" x2="36.60" y2="515.72" stroke="#333" stroke-width="0.7"/>
<line x1="35.20" y1="512.82" x2="36.60" y2="512.82" stroke="#333" stroke-width="0.7"/>
<line x1="35.20" y1="509.91" x2="36.60" y2="509.91" stroke="#333" stroke-width="0.7"/>
<line x1="35.20" y1="507.00" x2="36.60" y2="507.00" stroke="#333" stroke-width="0.7"/>
<line x1="34.40" y1="579.70" x2="36.60" y2="579.70" stroke="#333" stroke-width="0.8"/>
<text transform="translate(33.50,578.40) rotate(-90) scale(1.45,1)" font-size="4.5" text-anchor="middle" fill="#111" stroke="#111" stroke-width="0.25">0</text>
<line x1="34.40" y1="565.16" x2="36.60" y2="565.16" stroke="#333" stroke-width="0.8"/>
<text transform="translate(33.50,563.86) rotate(-90) scale(1.45,1)" font-size="4.5" text-anchor="middle" fill="#111" stroke="#111" stroke-width="0.25">20</text>
<line x1="34.40" y1="550.62" x2="36.60" y2="550.62" stroke="#333" stroke-width="0.8"/>
<text transform="translate(33.50,549.32) rotate(-90) scale(1.45,1)" font-size="4.5" text-anchor="middle" fill="#111" stroke="#111" stroke-width="0.25">40</text>
<line x1="34.40" y1="536.08" x2="36.60" y2="536.08" stroke="#333" stroke-width="0.8"/>
<text transform="translate(33.50,534.78) rotate(-90) scale(1.45,1)" font-size="4.5" text-anchor="middle" fill="#111" stroke="#111" stroke-width="0.25">60</text>
<line x1="34.40" y1="521.54" x2="36.60" y2="521.54" stroke="#333" stroke-width="0.8"/>
<text transform="translate(33.50,520.24) rotate(-90) scale(1.45,1)" font-size="4.5" text-anchor="middle" fill="#111" stroke="#111" stroke-width="0.25">80</text>
<line x1="34.40" y1="507.00" x2="36.60" y2="507.00" stroke="#333" stroke-width="0.8"/>
<text transform="translate(33.50,505.70) rotate(-90) scale(1.45,1)" font-size="4.5" text-anchor="middle" fill="#111" stroke="#111" stroke-width="0.25">100</text>
<text transform="translate(25.70,546.75) rotate(-90)" font-size="6.7" text-anchor="middle" fill="#111" stroke="#111" stroke-width="0.15">counts</text>
<line x1="36.60" y1="579.70" x2="36.60" y2="581.10" stroke="#333" stroke-width="0.7"/>
<line x1="40.44" y1="579.70" x2="40.44" y2="581.10" stroke="#333" stroke-width="0.7"/>
<line x1="44.27" y1="579.70" x2="44.27" y2="581.10" stroke="#333" stroke-width="0.7"/>
<line x1="48.11" y1="579.70" x2="48.11" y2="581.10" stroke="#333" stroke-width="0.7"/>
<line x1="51.94" y1="579.70" x2="51.94" y2="581.10" stroke="#333" stroke-width="0.7"/>
<line x1="55.78" y1="579.70" x2="55.78" y2="581.10" stroke="#333" stroke-width="0.7"/>
<line x1="59.62" y1="579.70" x2="59.62" y2="581.10" stroke="#333" stroke-width="0.7"/>
<line x1="63.45" y1="579.70" x2="63.45" y2="581.10" stroke="#333" stroke-width="0.7"/>
<line x1="67.29" y1="579.70" x2="67.29" y2="581.10" stroke="#333" stroke-width="0.7"/>
<line x1="71.12" y1="579.70" x2="71.12" y2="581.10" stroke="#333" stroke-width="0.7"/>
<line x1="74.96" y1="579.70" x2="74.96" y2="581.10" stroke="#333" stroke-width="0.7"/>
<line x1="78.80" y1="579.70" x2="78.80" y2="581.10" stroke="#333" stroke-width="0.7"/>
<line x1="82.63" y1="579.70" x2="82.63" y2="581.10" stroke="#333" stroke-width="0.7"/>
<line x1="86.47" y1="579.70" x2="86.47" y2="581.10" stroke="#333" stroke-width="0.7"/>
<line x1="90.30" y1="579.70" x2="90.30" y2="581.10" stroke="#333" stroke-width="0.7"/>
<line x1="94.14" y1="579.70" x2="94.14" y2="581.10" stroke="#333" stroke-width="0.7"/>
<line x1="97.98" y1="579.70" x2="97.98" y2="581.10" stroke="#333" stroke-width="0.7"/>
<line x1="101.81" y1="579.70" x2="101.81" y2="581.10" stroke="#333" stroke-width="0.7"/>
<line x1="105.65" y1="579.70" x2="105.65" y2="581.10" stroke="#333" stroke-width="0.7"/>
<line x1="109.48" y1="579.70" x2="109.48" y2="581.10" stroke="#333" stroke-width="0.7"/>
<line x1="113.32" y1="579.70" x2="113.32" y2="581.10" stroke="#333" stroke-width="0.7"/>
<line x1="117.16" y1="579.70" x2="117.16" y2="581.10" stroke="#333" stroke-width="0.7"/>
<line x1="120.99" y1="579.70" x2="120.99" y2="581.10" stroke="#333" stroke-width="0.7"/>
<line x1="124.83" y1="579.70" x2="124.83" y2="581.10" stroke="#333" stroke-width="0.7"/>
<line x1="128.66" y1="579.70" x2="128.66" y2="581.10" stroke="#333" stroke-width="0.7"/>
<line x1="132.50" y1="579.70" x2="132.50" y2="581.10" stroke="#333" stroke-width="0.7"/>
<line x1="36.60" y1="579.70" x2="36.60" y2="581.70" stroke="#333" stroke-width="0.8"/>
<text transform="translate(36.60,587.60) scale(1.45,1)" font-size="4.5" text-anchor="middle" fill="#111" stroke="#111" stroke-width="0.25">0</text>
<line x1="55.78" y1="579.70" x2="55.78" y2="581.70" stroke="#333" stroke-width="0.8"/>
<text transform="translate(55.78,587.60) scale(1.45,1)" font-size="4.5" text-anchor="middle" fill="#111" stroke="#111" stroke-width="0.25">200</text>
<line x1="74.96" y1="579.70" x2="74.96" y2="581.70" stroke="#333" stroke-width="0.8"/>
<text transform="translate(74.96,587.60) scale(1.45,1)" font-size="4.5" text-anchor="middle" fill="#111" stroke="#111" stroke-width="0.25">400</text>
<line x1="94.14" y1="579.70" x2="94.14" y2="581.70" stroke="#333" stroke-width="0.8"/>
<text transform="translate(94.14,587.60) scale(1.45,1)" font-size="4.5" text-anchor="middle" fill="#111" stroke="#111" stroke-width="0.25">600</text>
<line x1="113.32" y1="579.70" x2="113.32" y2="581.70" stroke="#333" stroke-width="0.8"/>
<text transform="translate(113.32,587.60) scale(1.45,1)" font-size="4.5" text-anchor="middle" fill="#111" stroke="#111" stroke-width="0.25">800</text>
<line x1="132.50" y1="579.70" x2="132.50" y2="581.70" stroke="#333" stroke-width="0.8"/>
<text transform="translate(132.50,587.60) scale(1.45,1)" font-size="4.5" text-anchor="middle" fill="#111" stroke="#111" stroke-width="0.25">1000</text>
<text x="81.05" y="594.50" font-size="4.8" text-anchor="middle" textLength="21.3" lengthAdjust="spacingAndGlyphs" fill="#111" stroke="#111" stroke-width="0.15">CXCR4 PE</text>
<path d="M36.60 577.40 L37.41 575.99 L38.50 575.87 L39.62 571.42 L40.80 566.49 L41.98 565.94 L43.10 561.33 L44.90 552.97 L45.90 539.15 L46.74 536.39 L47.70 537.21 L48.66 531.75 L49.60 533.35 L51.20 536.51 L52.31 540.80 L53.50 544.79 L54.72 545.31 L55.80 550.23 L57.00 557.37 L58.80 570.62 L60.40 574.69 L61.39 575.67 L62.58 577.15 L63.90 578.21 L64.72 578.28 L65.57 577.84 L66.47 578.02 L67.44 578.04 L68.50 578.36 L69.39 578.71 L70.41 578.95 L71.49 578.91 L72.57 579.16 L73.56 579.11 L74.40 579.35 L75.00 579.50 L75.00 579.70 L36.60 579.70 Z" fill="#737373" stroke="#3a3a3a" stroke-width="0.7" stroke-linejoin="round"/>
<path d="M36.60 579.30 L37.04 579.29 L37.56 579.21 L38.14 579.33 L38.78 579.43 L39.48 579.46 L40.23 579.33 L41.03 579.26 L41.87 579.21 L42.75 579.18 L43.65 579.09 L44.59 579.01 L45.54 578.97 L46.51 579.33 L47.49 579.18 L48.48 579.30 L49.47 578.97 L50.45 579.19 L51.42 579.14 L52.38 579.22 L53.32 579.08 L54.23 579.23 L55.11 579.23 L55.96 579.27 L56.76 578.76 L57.52 578.88 L58.23 579.25 L58.88 579.41 L59.48 579.09 L60.00 578.95 L61.92 579.13 L63.09 578.91 L63.74 578.84 L64.13 578.96 L64.47 578.63 L65.00 578.16 L65.98 578.21 L66.84 578.34 L67.66 577.73 L68.50 577.50 L69.39 576.43 L70.28 575.82 L71.16 574.15 L72.00 573.23 L73.05 570.10 L74.04 566.59 L75.00 563.88 L75.92 558.94 L76.80 553.16 L77.70 545.85 L78.64 540.57 L79.60 535.91 L80.50 531.56 L81.68 532.47 L82.80 541.83 L83.91 547.51 L85.10 554.28 L86.05 558.75 L87.07 563.84 L88.10 568.41 L89.11 570.23 L90.11 573.99 L91.10 575.77 L91.93 577.57 L92.73 578.09 L93.90 578.51 L94.37 578.77 L94.65 579.13 L94.92 579.27 L95.40 578.90 L96.27 579.39 L97.74 579.24 L100.00 579.10 L100.50 579.46 L101.05 579.23 L101.65 579.26 L102.30 579.44 L102.98 579.33 L103.70 579.38 L104.46 579.50 L105.25 579.42 L106.08 579.12 L106.93 579.36 L107.81 579.27 L108.70 579.29 L109.62 579.29 L110.56 579.44 L111.51 579.44 L112.47 579.41 L113.44 579.53 L114.42 579.45 L115.40 579.42 L116.38 579.54 L117.36 579.50 L118.34 579.48 L119.30 579.56 L120.26 579.53 L121.21 579.48 L122.13 579.47 L123.05 579.43 L123.94 579.39 L124.80 579.68 L125.64 579.51 L126.45 579.28 L127.23 579.49 L127.98 579.42 L128.69 579.40 L129.35 579.46 L129.98 579.51 L130.56 579.58 L131.09 579.48 L131.57 579.48 L132.00 579.50" fill="none" stroke="#111" stroke-width="1.9" stroke-linejoin="round"/>
<line x1="36.90" y1="546.20" x2="36.90" y2="579.70" stroke="#111" stroke-width="1.4"/>
<line x1="155.30" y1="507.40" x2="249.80" y2="507.40" stroke="#999" stroke-width="1.1"/>
<line x1="249.80" y1="507.40" x2="249.80" y2="579.70" stroke="#999" stroke-width="1.1"/>
<line x1="155.30" y1="579.70" x2="249.80" y2="579.70" stroke="#222" stroke-width="1.1"/>
<line x1="155.30" y1="506.90" x2="155.30" y2="580.20" stroke="#222" stroke-width="1.2"/>
<line x1="153.90" y1="579.70" x2="155.30" y2="579.70" stroke="#333" stroke-width="0.7"/>
<line x1="153.90" y1="576.81" x2="155.30" y2="576.81" stroke="#333" stroke-width="0.7"/>
<line x1="153.90" y1="573.92" x2="155.30" y2="573.92" stroke="#333" stroke-width="0.7"/>
<line x1="153.90" y1="571.02" x2="155.30" y2="571.02" stroke="#333" stroke-width="0.7"/>
<line x1="153.90" y1="568.13" x2="155.30" y2="568.13" stroke="#333" stroke-width="0.7"/>
<line x1="153.90" y1="565.24" x2="155.30" y2="565.24" stroke="#333" stroke-width="0.7"/>
<line x1="153.90" y1="562.35" x2="155.30" y2="562.35" stroke="#333" stroke-width="0.7"/>
<line x1="153.90" y1="559.46" x2="155.30" y2="559.46" stroke="#333" stroke-width="0.7"/>
<line x1="153.90" y1="556.56" x2="155.30" y2="556.56" stroke="#333" stroke-width="0.7"/>
<line x1="153.90" y1="553.67" x2="155.30" y2="553.67" stroke="#333" stroke-width="0.7"/>
<line x1="153.90" y1="550.78" x2="155.30" y2="550.78" stroke="#333" stroke-width="0.7"/>
<line x1="153.90" y1="547.89" x2="155.30" y2="547.89" stroke="#333" stroke-width="0.7"/>
<line x1="153.90" y1="545.00" x2="155.30" y2="545.00" stroke="#333" stroke-width="0.7"/>
<line x1="153.90" y1="542.10" x2="155.30" y2="542.10" stroke="#333" stroke-width="0.7"/>
<line x1="153.90" y1="539.21" x2="155.30" y2="539.21" stroke="#333" stroke-width="0.7"/>
<line x1="153.90" y1="536.32" x2="155.30" y2="536.32" stroke="#333" stroke-width="0.7"/>
<line x1="153.90" y1="533.43" x2="155.30" y2="533.43" stroke="#333" stroke-width="0.7"/>
<line x1="153.90" y1="530.54" x2="155.30" y2="530.54" stroke="#333" stroke-width="0.7"/>
<line x1="153.90" y1="527.64" x2="155.30" y2="527.64" stroke="#333" stroke-width="0.7"/>
<line x1="153.90" y1="524.75" x2="155.30" y2="524.75" stroke="#333" stroke-width="0.7"/>
<line x1="153.90" y1="521.86" x2="155.30" y2="521.86" stroke="#333" stroke-width="0.7"/>
<line x1="153.90" y1="518.97" x2="155.30" y2="518.97" stroke="#333" stroke-width="0.7"/>
<line x1="153.90" y1="516.08" x2="155.30" y2="516.08" stroke="#333" stroke-width="0.7"/>
<line x1="153.90" y1="513.18" x2="155.30" y2="513.18" stroke="#333" stroke-width="0.7"/>
<line x1="153.90" y1="510.29" x2="155.30" y2="510.29" stroke="#333" stroke-width="0.7"/>
<line x1="153.90" y1="507.40" x2="155.30" y2="507.40" stroke="#333" stroke-width="0.7"/>
<line x1="153.10" y1="579.70" x2="155.30" y2="579.70" stroke="#333" stroke-width="0.8"/>
<text transform="translate(152.20,578.40) rotate(-90) scale(1.45,1)" font-size="4.5" text-anchor="middle" fill="#111" stroke="#111" stroke-width="0.25">0</text>
<line x1="153.10" y1="565.24" x2="155.30" y2="565.24" stroke="#333" stroke-width="0.8"/>
<text transform="translate(152.20,563.94) rotate(-90) scale(1.45,1)" font-size="4.5" text-anchor="middle" fill="#111" stroke="#111" stroke-width="0.25">20</text>
<line x1="153.10" y1="550.78" x2="155.30" y2="550.78" stroke="#333" stroke-width="0.8"/>
<text transform="translate(152.20,549.48) rotate(-90) scale(1.45,1)" font-size="4.5" text-anchor="middle" fill="#111" stroke="#111" stroke-width="0.25">40</text>
<line x1="153.10" y1="536.32" x2="155.30" y2="536.32" stroke="#333" stroke-width="0.8"/>
<text transform="translate(152.20,535.02) rotate(-90) scale(1.45,1)" font-size="4.5" text-anchor="middle" fill="#111" stroke="#111" stroke-width="0.25">60</text>
<line x1="153.10" y1="521.86" x2="155.30" y2="521.86" stroke="#333" stroke-width="0.8"/>
<text transform="translate(152.20,520.56) rotate(-90) scale(1.45,1)" font-size="4.5" text-anchor="middle" fill="#111" stroke="#111" stroke-width="0.25">80</text>
<line x1="153.10" y1="507.40" x2="155.30" y2="507.40" stroke="#333" stroke-width="0.8"/>
<text transform="translate(152.20,506.10) rotate(-90) scale(1.45,1)" font-size="4.5" text-anchor="middle" fill="#111" stroke="#111" stroke-width="0.25">100</text>
<text transform="translate(144.40,546.95) rotate(-90)" font-size="6.7" text-anchor="middle" fill="#111" stroke="#111" stroke-width="0.15">counts</text>
<line x1="155.30" y1="579.70" x2="155.30" y2="581.10" stroke="#333" stroke-width="0.7"/>
<line x1="159.08" y1="579.70" x2="159.08" y2="581.10" stroke="#333" stroke-width="0.7"/>
<line x1="162.86" y1="579.70" x2="162.86" y2="581.10" stroke="#333" stroke-width="0.7"/>
<line x1="166.64" y1="579.70" x2="166.64" y2="581.10" stroke="#333" stroke-width="0.7"/>
<line x1="170.42" y1="579.70" x2="170.42" y2="581.10" stroke="#333" stroke-width="0.7"/>
<line x1="174.20" y1="579.70" x2="174.20" y2="581.10" stroke="#333" stroke-width="0.7"/>
<line x1="177.98" y1="579.70" x2="177.98" y2="581.10" stroke="#333" stroke-width="0.7"/>
<line x1="181.76" y1="579.70" x2="181.76" y2="581.10" stroke="#333" stroke-width="0.7"/>
<line x1="185.54" y1="579.70" x2="185.54" y2="581.10" stroke="#333" stroke-width="0.7"/>
<line x1="189.32" y1="579.70" x2="189.32" y2="581.10" stroke="#333" stroke-width="0.7"/>
<line x1="193.10" y1="579.70" x2="193.10" y2="581.10" stroke="#333" stroke-width="0.7"/>
<line x1="196.88" y1="579.70" x2="196.88" y2="581.10" stroke="#333" stroke-width="0.7"/>
<line x1="200.66" y1="579.70" x2="200.66" y2="581.10" stroke="#333" stroke-width="0.7"/>
<line x1="204.44" y1="579.70" x2="204.44" y2="581.10" stroke="#333" stroke-width="0.7"/>
<line x1="208.22" y1="579.70" x2="208.22" y2="581.10" stroke="#333" stroke-width="0.7"/>
<line x1="212.00" y1="579.70" x2="212.00" y2="581.10" stroke="#333" stroke-width="0.7"/>
<line x1="215.78" y1="579.70" x2="215.78" y2="581.10" stroke="#333" stroke-width="0.7"/>
<line x1="219.56" y1="579.70" x2="219.56" y2="581.10" stroke="#333" stroke-width="0.7"/>
<line x1="223.34" y1="579.70" x2="223.34" y2="581.10" stroke="#333" stroke-width="0.7"/>
<line x1="227.12" y1="579.70" x2="227.12" y2="581.10" stroke="#333" stroke-width="0.7"/>
<line x1="230.90" y1="579.70" x2="230.90" y2="581.10" stroke="#333" stroke-width="0.7"/>
<line x1="234.68" y1="579.70" x2="234.68" y2="581.10" stroke="#333" stroke-width="0.7"/>
<line x1="238.46" y1="579.70" x2="238.46" y2="581.10" stroke="#333" stroke-width="0.7"/>
<line x1="242.24" y1="579.70" x2="242.24" y2="581.10" stroke="#333" stroke-width="0.7"/>
<line x1="246.02" y1="579.70" x2="246.02" y2="581.10" stroke="#333" stroke-width="0.7"/>
<line x1="249.80" y1="579.70" x2="249.80" y2="581.10" stroke="#333" stroke-width="0.7"/>
<line x1="155.30" y1="579.70" x2="155.30" y2="581.70" stroke="#333" stroke-width="0.8"/>
<text transform="translate(155.30,587.60) scale(1.45,1)" font-size="4.5" text-anchor="middle" fill="#111" stroke="#111" stroke-width="0.25">0</text>
<line x1="174.20" y1="579.70" x2="174.20" y2="581.70" stroke="#333" stroke-width="0.8"/>
<text transform="translate(174.20,587.60) scale(1.45,1)" font-size="4.5" text-anchor="middle" fill="#111" stroke="#111" stroke-width="0.25">200</text>
<line x1="193.10" y1="579.70" x2="193.10" y2="581.70" stroke="#333" stroke-width="0.8"/>
<text transform="translate(193.10,587.60) scale(1.45,1)" font-size="4.5" text-anchor="middle" fill="#111" stroke="#111" stroke-width="0.25">400</text>
<line x1="212.00" y1="579.70" x2="212.00" y2="581.70" stroke="#333" stroke-width="0.8"/>
<text transform="translate(212.00,587.60) scale(1.45,1)" font-size="4.5" text-anchor="middle" fill="#111" stroke="#111" stroke-width="0.25">600</text>
<line x1="230.90" y1="579.70" x2="230.90" y2="581.70" stroke="#333" stroke-width="0.8"/>
<text transform="translate(230.90,587.60) scale(1.45,1)" font-size="4.5" text-anchor="middle" fill="#111" stroke="#111" stroke-width="0.25">800</text>
<line x1="249.80" y1="579.70" x2="249.80" y2="581.70" stroke="#333" stroke-width="0.8"/>
<text transform="translate(249.80,587.60) scale(1.45,1)" font-size="4.5" text-anchor="middle" fill="#111" stroke="#111" stroke-width="0.25">1000</text>
<text x="199.05" y="594.50" font-size="4.8" text-anchor="middle" textLength="21.3" lengthAdjust="spacingAndGlyphs" fill="#111" stroke="#111" stroke-width="0.15">CXCR4 PE</text>
<path d="M155.30 575.50 L156.46 573.34 L158.00 570.96 L158.98 571.33 L159.99 569.29 L161.00 569.75 L162.02 567.06 L163.04 563.75 L164.00 563.54 L165.31 560.34 L166.50 557.18 L167.53 558.34 L168.50 555.60 L169.50 559.65 L170.50 558.38 L171.47 555.85 L172.50 555.24 L173.75 555.93 L175.00 551.77 L176.03 554.30 L177.00 553.34 L178.03 557.25 L179.00 558.99 L180.50 565.68 L182.00 569.79 L183.50 574.98 L185.00 578.54 L185.74 578.25 L186.65 579.13 L188.00 578.91 L188.85 578.83 L189.91 579.37 L191.09 579.39 L192.28 579.25 L193.39 579.66 L194.33 579.69 L195.00 579.50 L195.00 579.70 L155.30 579.70 Z" fill="#737373" stroke="#3a3a3a" stroke-width="0.7" stroke-linejoin="round"/>
<path d="M155.30 579.30 L155.75 579.34 L156.27 579.33 L156.85 579.22 L157.50 579.23 L158.21 579.36 L158.96 579.36 L159.76 579.18 L160.61 579.29 L161.49 579.06 L162.40 579.38 L163.34 579.28 L164.31 579.27 L165.29 579.29 L166.28 579.21 L167.29 579.49 L168.29 579.38 L169.30 579.00 L170.30 579.52 L171.28 579.34 L172.25 579.34 L173.20 578.90 L174.12 579.09 L175.02 579.03 L175.87 578.98 L176.69 579.09 L177.46 579.27 L178.18 579.06 L178.85 579.04 L179.46 579.04 L180.00 578.79 L181.83 578.93 L183.07 579.09 L183.87 578.95 L184.39 578.69 L184.78 578.83 L185.20 578.74 L185.80 578.59 L186.81 578.55 L187.78 578.63 L188.70 578.20 L189.57 577.94 L190.40 577.15 L191.38 576.54 L192.29 576.09 L193.14 575.48 L193.90 572.52 L195.12 566.36 L196.20 558.47 L197.31 551.21 L198.50 544.35 L199.46 539.48 L200.49 537.57 L201.50 534.43 L202.43 536.02 L203.33 539.66 L204.30 544.99 L205.11 545.54 L205.96 551.74 L206.83 554.89 L207.70 558.07 L208.57 561.28 L209.44 566.58 L210.32 569.94 L211.20 572.23 L212.02 574.26 L212.81 575.79 L213.66 576.30 L214.70 577.58 L215.38 577.76 L216.08 578.45 L216.83 578.09 L217.63 578.39 L218.51 578.35 L219.46 578.38 L220.50 578.29 L221.19 578.72 L221.87 578.35 L222.55 578.88 L223.26 578.75 L224.00 578.75 L224.80 579.43 L225.65 579.08 L226.59 579.05 L227.61 579.29 L228.75 579.27 L230.00 579.37 L230.64 579.37 L231.34 579.37 L232.09 579.31 L232.90 579.29 L233.74 579.24 L234.63 579.39 L235.54 579.56 L236.48 579.49 L237.44 579.49 L238.40 579.59 L239.37 579.52 L240.34 579.39 L241.30 579.41 L242.25 579.56 L243.18 579.66 L244.07 579.33 L244.94 579.46 L245.76 579.39 L246.54 579.38 L247.26 579.56 L247.93 579.42 L248.53 579.62 L249.05 579.44 L249.50 579.50" fill="none" stroke="#111" stroke-width="1.9" stroke-linejoin="round"/>
<line x1="155.80" y1="540.00" x2="155.80" y2="579.70" stroke="#111" stroke-width="1.5"/>
<text x="285.00" y="274.00" font-size="17" text-anchor="start" font-weight="bold" fill="#000" stroke="#000" stroke-width="0.35">D</text>
<rect x="318.40" y="292.80" width="196.10" height="140.50" fill="none" stroke="#505050" stroke-width="1.2"/>
<line x1="315.90" y1="433.30" x2="318.40" y2="433.30" stroke="#505050" stroke-width="1.1"/>
<text x="310.60" y="436.70" font-size="9.6" text-anchor="end" font-weight="normal" fill="#222"  stroke="#222" stroke-width="0.12">90</text>
<line x1="315.90" y1="405.20" x2="318.40" y2="405.20" stroke="#505050" stroke-width="1.1"/>
<text x="310.60" y="408.60" font-size="9.6" text-anchor="end" font-weight="normal" fill="#222"  stroke="#222" stroke-width="0.12">100</text>
<line x1="315.90" y1="377.10" x2="318.40" y2="377.10" stroke="#505050" stroke-width="1.1"/>
<text x="310.60" y="380.50" font-size="9.6" text-anchor="end" font-weight="normal" fill="#222"  stroke="#222" stroke-width="0.12">110</text>
<line x1="315.90" y1="349.00" x2="318.40" y2="349.00" stroke="#505050" stroke-width="1.1"/>
<text x="310.60" y="352.40" font-size="9.6" text-anchor="end" font-weight="normal" fill="#222"  stroke="#222" stroke-width="0.12">120</text>
<line x1="315.90" y1="320.90" x2="318.40" y2="320.90" stroke="#505050" stroke-width="1.1"/>
<text x="310.60" y="324.30" font-size="9.6" text-anchor="end" font-weight="normal" fill="#222"  stroke="#222" stroke-width="0.12">130</text>
<line x1="315.90" y1="292.80" x2="318.40" y2="292.80" stroke="#505050" stroke-width="1.1"/>
<text x="310.60" y="296.20" font-size="9.6" text-anchor="end" font-weight="normal" fill="#222"  stroke="#222" stroke-width="0.12">140</text>
<line x1="326.30" y1="433.30" x2="326.30" y2="435.90" stroke="#505050" stroke-width="1.1"/>
<text x="326.30" y="449.80" font-size="9.6" text-anchor="middle" font-weight="normal" fill="#222"  stroke="#222" stroke-width="0.12">0</text>
<line x1="360.66" y1="433.30" x2="360.66" y2="435.90" stroke="#505050" stroke-width="1.1"/>
<text x="360.66" y="449.80" font-size="9.6" text-anchor="middle" font-weight="normal" fill="#222"  stroke="#222" stroke-width="0.12">200</text>
<line x1="395.02" y1="433.30" x2="395.02" y2="435.90" stroke="#505050" stroke-width="1.1"/>
<text x="395.02" y="449.80" font-size="9.6" text-anchor="middle" font-weight="normal" fill="#222"  stroke="#222" stroke-width="0.12">400</text>
<line x1="429.38" y1="433.30" x2="429.38" y2="435.90" stroke="#505050" stroke-width="1.1"/>
<text x="429.38" y="449.80" font-size="9.6" text-anchor="middle" font-weight="normal" fill="#222"  stroke="#222" stroke-width="0.12">600</text>
<line x1="463.74" y1="433.30" x2="463.74" y2="435.90" stroke="#505050" stroke-width="1.1"/>
<text x="463.74" y="449.80" font-size="9.6" text-anchor="middle" font-weight="normal" fill="#222"  stroke="#222" stroke-width="0.12">800</text>
<line x1="498.10" y1="433.30" x2="498.10" y2="435.90" stroke="#505050" stroke-width="1.1"/>
<text x="498.10" y="449.80" font-size="9.6" text-anchor="middle" font-weight="normal" fill="#222"  stroke="#222" stroke-width="0.12">1000</text>
<text x="418.20" y="469.90" font-size="9.7" text-anchor="middle" font-weight="normal" fill="#222"  stroke="#222" stroke-width="0.12">CXCL12 (ng/mL)</text>
<text transform="translate(291.6,362.9) rotate(-90)" font-size="10.3" text-anchor="middle" fill="#222" stroke="#222" stroke-width="0.12">% actin modulation</text>
<line x1="326.30" y1="413.63" x2="326.30" y2="396.77" stroke="#666" stroke-width="1.3"/>
<line x1="323.90" y1="413.63" x2="328.70" y2="413.63" stroke="#555" stroke-width="1.2"/>
<line x1="323.90" y1="396.77" x2="328.70" y2="396.77" stroke="#555" stroke-width="1.2"/>
<line x1="343.48" y1="363.05" x2="343.48" y2="334.95" stroke="#666" stroke-width="1.3"/>
<line x1="341.08" y1="363.05" x2="345.88" y2="363.05" stroke="#555" stroke-width="1.2"/>
<line x1="341.08" y1="334.95" x2="345.88" y2="334.95" stroke="#555" stroke-width="1.2"/>
<line x1="360.66" y1="357.43" x2="360.66" y2="323.71" stroke="#666" stroke-width="1.3"/>
<line x1="358.26" y1="357.43" x2="363.06" y2="357.43" stroke="#555" stroke-width="1.2"/>
<line x1="358.26" y1="323.71" x2="363.06" y2="323.71" stroke="#555" stroke-width="1.2"/>
<line x1="412.20" y1="340.57" x2="412.20" y2="318.09" stroke="#666" stroke-width="1.3"/>
<line x1="409.80" y1="340.57" x2="414.60" y2="340.57" stroke="#555" stroke-width="1.2"/>
<line x1="409.80" y1="318.09" x2="414.60" y2="318.09" stroke="#555" stroke-width="1.2"/>
<line x1="498.10" y1="334.95" x2="498.10" y2="306.85" stroke="#666" stroke-width="1.3"/>
<line x1="495.70" y1="334.95" x2="500.50" y2="334.95" stroke="#555" stroke-width="1.2"/>
<line x1="495.70" y1="306.85" x2="500.50" y2="306.85" stroke="#555" stroke-width="1.2"/>
<line x1="326.30" y1="413.63" x2="326.30" y2="396.77" stroke="#666" stroke-width="1.3"/>
<line x1="323.90" y1="413.63" x2="328.70" y2="413.63" stroke="#555" stroke-width="1.2"/>
<line x1="323.90" y1="396.77" x2="328.70" y2="396.77" stroke="#555" stroke-width="1.2"/>
<line x1="343.48" y1="422.06" x2="343.48" y2="405.20" stroke="#666" stroke-width="1.3"/>
<line x1="341.08" y1="422.06" x2="345.88" y2="422.06" stroke="#555" stroke-width="1.2"/>
<line x1="341.08" y1="405.20" x2="345.88" y2="405.20" stroke="#555" stroke-width="1.2"/>
<line x1="360.66" y1="424.87" x2="360.66" y2="402.39" stroke="#666" stroke-width="1.3"/>
<line x1="358.26" y1="424.87" x2="363.06" y2="424.87" stroke="#555" stroke-width="1.2"/>
<line x1="358.26" y1="402.39" x2="363.06" y2="402.39" stroke="#555" stroke-width="1.2"/>
<line x1="412.20" y1="416.44" x2="412.20" y2="399.58" stroke="#666" stroke-width="1.3"/>
<line x1="409.80" y1="416.44" x2="414.60" y2="416.44" stroke="#555" stroke-width="1.2"/>
<line x1="409.80" y1="399.58" x2="414.60" y2="399.58" stroke="#555" stroke-width="1.2"/>
<line x1="498.10" y1="430.49" x2="498.10" y2="408.01" stroke="#666" stroke-width="1.3"/>
<line x1="495.70" y1="430.49" x2="500.50" y2="430.49" stroke="#555" stroke-width="1.2"/>
<line x1="495.70" y1="408.01" x2="500.50" y2="408.01" stroke="#555" stroke-width="1.2"/>
<polyline points="326.30,405.20 343.48,349.00 360.66,340.57 412.20,329.33 498.10,320.90" fill="none" stroke="#222" stroke-width="1"/>
<polyline points="326.30,405.20 343.48,413.63 360.66,413.63 412.20,408.01 498.10,419.25" fill="none" stroke="#222" stroke-width="1"/>
<circle cx="326.30" cy="405.20" r="3.1" fill="#111"/>
<circle cx="343.48" cy="349.00" r="3.1" fill="#111"/>
<circle cx="360.66" cy="340.57" r="3.1" fill="#111"/>
<circle cx="412.20" cy="329.33" r="3.1" fill="#111"/>
<circle cx="498.10" cy="320.90" r="3.1" fill="#111"/>
<circle cx="326.30" cy="405.20" r="2.9" fill="#e6e6e6" stroke="#222" stroke-width="0.9"/>
<circle cx="343.48" cy="413.63" r="2.9" fill="#e6e6e6" stroke="#222" stroke-width="0.9"/>
<circle cx="360.66" cy="413.63" r="2.9" fill="#e6e6e6" stroke="#222" stroke-width="0.9"/>
<circle cx="412.20" cy="408.01" r="2.9" fill="#e6e6e6" stroke="#222" stroke-width="0.9"/>
<circle cx="498.10" cy="419.25" r="2.9" fill="#e6e6e6" stroke="#222" stroke-width="0.9"/>
<line x1="415.40" y1="363.50" x2="430.00" y2="363.50" stroke="#222" stroke-width="1.0"/>
<circle cx="422.6" cy="363.5" r="2.9" fill="#111"/>
<line x1="415.40" y1="374.70" x2="430.00" y2="374.70" stroke="#222" stroke-width="1.0"/>
<circle cx="422.6" cy="374.7" r="2.7" fill="#e6e6e6" stroke="#222" stroke-width="0.9"/>
<text x="434.40" y="367.50" font-size="9.9" text-anchor="start" font-weight="normal" fill="#222"  stroke="#222" stroke-width="0.12">CD23 low</text>
<text x="434.40" y="378.40" font-size="9.9" text-anchor="start" font-weight="normal" fill="#222"  stroke="#222" stroke-width="0.12">CD23 int</text>
</svg>
</body></html>
